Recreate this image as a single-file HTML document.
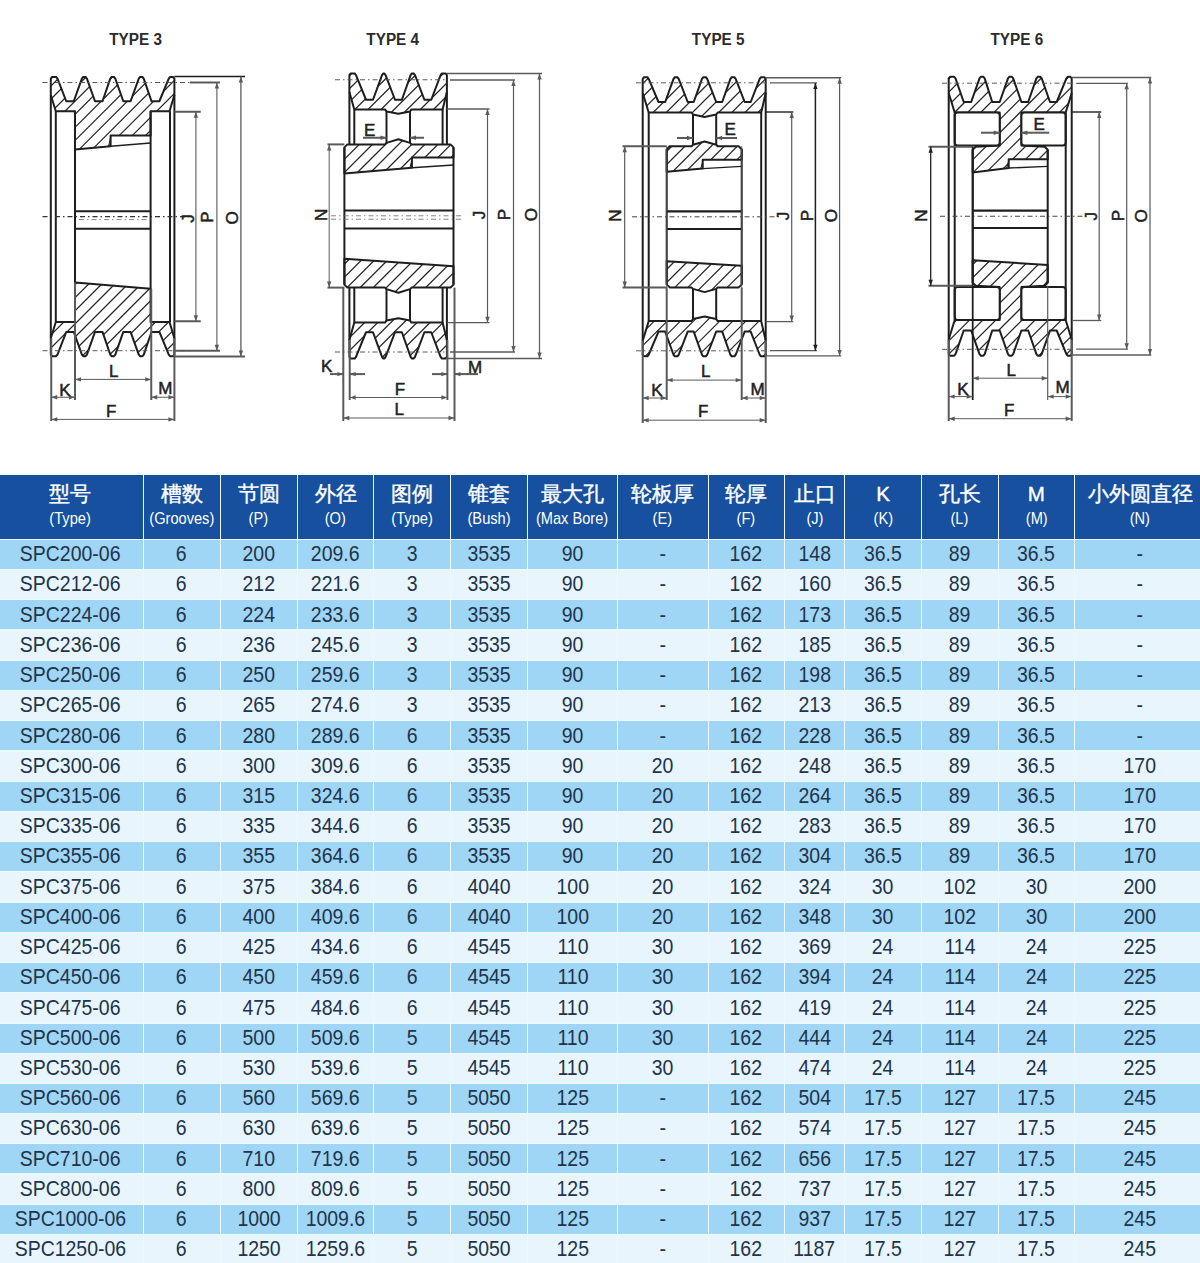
<!DOCTYPE html><html><head><meta charset="utf-8"><style>
html,body{margin:0;padding:0;background:#fff;width:1200px;height:1263px;overflow:hidden;position:relative;font-family:"Liberation Sans",sans-serif;}
.c{position:absolute;display:flex;align-items:center;justify-content:center;overflow:visible;white-space:nowrap;}
.t{display:inline-block;transform:scaleX(0.865);color:#22334a;font-size:22.5px;line-height:1;}
.h{position:absolute;background:#16509e;}
.hc{position:absolute;left:0;right:0;text-align:center;color:#fff;white-space:nowrap;line-height:1;}
.cn{font-size:20.5px;font-weight:normal;-webkit-text-stroke:0.4px #fff;top:8.5px;}
.en{font-size:17px;top:34.5px;}
.en span{display:inline-block;transform:scaleX(0.86);}
</style></head><body>
<svg width="1200" height="470" viewBox="0 0 1200 470" style="position:absolute;left:0;top:0" font-family="Liberation Sans, sans-serif"><clipPath id="cp1"><polygon points="50.8,78.6 52.1,77 56.2,77 57.5,78.6 66.25,101.25 73.75,101.25 81.9,78.6 83.2,77 85.6,77 86.9,78.6 95,101.25 102.5,101.25 110.3,78.6 111.6,77 114,77 115.3,78.6 123.3,101.25 130.6,101.25 138.75,78.6 140.05,77 142.45,77 143.75,78.6 151.5,101.25 159.4,101.25 168.75,78.6 170.05,77 173.1,77 174.4,78.6 174.4,95 169.5,111.25 150.6,111.25 150.6,135.6 110.6,135.6 110.6,146.2 75,149.4 75,111.25 55.8,111.25 50.8,95"/></clipPath><path clip-path="url(#cp1)" d="M-25.6 149.4L46.8 77M-12.5 149.4L59.9 77M0.6 149.4L73 77M13.7 149.4L86.1 77M26.8 149.4L99.2 77M39.9 149.4L112.3 77M53 149.4L125.4 77M66.1 149.4L138.5 77M79.2 149.4L151.6 77M92.3 149.4L164.7 77M105.4 149.4L177.8 77M118.5 149.4L190.9 77M131.6 149.4L204 77M144.7 149.4L217.1 77M157.8 149.4L230.2 77M170.9 149.4L243.3 77M184 149.4L256.4 77" stroke="#2a2a2a" stroke-width="1.25" fill="none"/><clipPath id="cp2"><polygon points="50.8,354.6 52.1,356.2 56.2,356.2 57.5,354.6 66.25,331.95 73.75,331.95 81.9,354.6 83.2,356.2 85.6,356.2 86.9,354.6 95,331.95 102.5,331.95 110.3,354.6 111.6,356.2 114,356.2 115.3,354.6 123.3,331.95 130.6,331.95 138.75,354.6 140.05,356.2 142.45,356.2 143.75,354.6 151.5,331.95 159.4,331.95 168.75,354.6 170.05,356.2 173.1,356.2 174.4,354.6 174.4,338.2 169.5,321.95 150.6,321.95 150.6,288.75 75,282.5 75,321.95 55.8,321.95 50.8,338.2"/></clipPath><path clip-path="url(#cp2)" d="M-35.9 356.2L37.8 282.5M-22.8 356.2L50.9 282.5M-9.7 356.2L64 282.5M3.4 356.2L77.1 282.5M16.5 356.2L90.2 282.5M29.6 356.2L103.3 282.5M42.7 356.2L116.4 282.5M55.8 356.2L129.5 282.5M68.9 356.2L142.6 282.5M82 356.2L155.7 282.5M95.1 356.2L168.8 282.5M108.2 356.2L181.9 282.5M121.3 356.2L195 282.5M134.4 356.2L208.1 282.5M147.5 356.2L221.2 282.5M160.6 356.2L234.3 282.5M173.7 356.2L247.4 282.5M186.8 356.2L260.5 282.5" stroke="#2a2a2a" stroke-width="1.25" fill="none"/><polygon points="50.8,78.6 52.1,77 56.2,77 57.5,78.6 66.25,101.25 73.75,101.25 81.9,78.6 83.2,77 85.6,77 86.9,78.6 95,101.25 102.5,101.25 110.3,78.6 111.6,77 114,77 115.3,78.6 123.3,101.25 130.6,101.25 138.75,78.6 140.05,77 142.45,77 143.75,78.6 151.5,101.25 159.4,101.25 168.75,78.6 170.05,77 173.1,77 174.4,78.6 174.4,95 169.5,111.25 150.6,111.25 150.6,135.6 110.6,135.6 110.6,146.2 75,149.4 75,111.25 55.8,111.25 50.8,95" fill="none" stroke="#1e1e1e" stroke-width="2" stroke-linejoin="round" /><polygon points="50.8,354.6 52.1,356.2 56.2,356.2 57.5,354.6 66.25,331.95 73.75,331.95 81.9,354.6 83.2,356.2 85.6,356.2 86.9,354.6 95,331.95 102.5,331.95 110.3,354.6 111.6,356.2 114,356.2 115.3,354.6 123.3,331.95 130.6,331.95 138.75,354.6 140.05,356.2 142.45,356.2 143.75,354.6 151.5,331.95 159.4,331.95 168.75,354.6 170.05,356.2 173.1,356.2 174.4,354.6 174.4,338.2 169.5,321.95 150.6,321.95 150.6,288.75 75,282.5 75,321.95 55.8,321.95 50.8,338.2" fill="none" stroke="#1e1e1e" stroke-width="2" stroke-linejoin="round" /><line x1="110.6" y1="146.2" x2="150.6" y2="143" stroke="#1e1e1e" stroke-width="1.4" /><line x1="108.4" y1="146.4" x2="110.8" y2="137" stroke="#1e1e1e" stroke-width="1" /><line x1="50.8" y1="95" x2="50.8" y2="338.2" stroke="#1e1e1e" stroke-width="2" /><line x1="174.4" y1="95" x2="174.4" y2="338.2" stroke="#1e1e1e" stroke-width="2" /><line x1="55.8" y1="111.25" x2="55.8" y2="321.95" stroke="#1e1e1e" stroke-width="2" /><line x1="170" y1="111.25" x2="170" y2="321.95" stroke="#1e1e1e" stroke-width="2" /><line x1="75" y1="149.4" x2="75" y2="282.5" stroke="#1e1e1e" stroke-width="2" /><line x1="150.6" y1="111.25" x2="150.6" y2="288.75" stroke="#1e1e1e" stroke-width="2" /><line x1="75" y1="211.25" x2="150.6" y2="211.25" stroke="#1e1e1e" stroke-width="2.2" /><line x1="75" y1="228.75" x2="150.6" y2="228.75" stroke="#1e1e1e" stroke-width="2.2" /><line x1="42.5" y1="216.6" x2="192" y2="216.6" stroke="#333" stroke-width="1.1" stroke-dasharray="5 3 1.5 3"/><line x1="79" y1="219.6" x2="150.6" y2="219.6" stroke="#666" stroke-width="0.8" stroke-dasharray="5 3 1.5 3"/><line x1="42.5" y1="82.5" x2="190" y2="82.5" stroke="#5a5a5a" stroke-width="1" stroke-dasharray="5 3 1.5 3"/><line x1="42.5" y1="350.7" x2="190" y2="350.7" stroke="#5a5a5a" stroke-width="1" stroke-dasharray="5 3 1.5 3"/><line x1="174.4" y1="76.5" x2="245" y2="76.5" stroke="#1e1e1e" stroke-width="1.6" /><line x1="174.4" y1="356.5" x2="245" y2="356.5" stroke="#5a5a5a" stroke-width="2" /><line x1="190" y1="82.5" x2="220" y2="82.5" stroke="#5a5a5a" stroke-width="2" /><line x1="174.4" y1="350.7" x2="220" y2="350.7" stroke="#5a5a5a" stroke-width="2" /><line x1="174.4" y1="111.75" x2="200.75" y2="111.75" stroke="#5a5a5a" stroke-width="2" /><line x1="174.4" y1="321.25" x2="200.75" y2="321.25" stroke="#5a5a5a" stroke-width="2" /><line x1="240.9" y1="76.5" x2="240.9" y2="356.5" stroke="#5a5a5a" stroke-width="1.3" /><polygon points="240.9,76.5 238.7,82.5 243.1,82.5" fill="#5a5a5a"/><polygon points="240.9,356.5 238.7,350.5 243.1,350.5" fill="#5a5a5a"/><line x1="216.9" y1="82.5" x2="216.9" y2="350.7" stroke="#5a5a5a" stroke-width="1.1" /><polygon points="216.9,82.5 214.7,88.5 219.1,88.5" fill="#5a5a5a"/><polygon points="216.9,350.7 214.7,344.7 219.1,344.7" fill="#5a5a5a"/><line x1="195.9" y1="111.75" x2="195.9" y2="321.25" stroke="#5a5a5a" stroke-width="1.1" /><polygon points="195.9,111.75 193.7,117.75 198.1,117.75" fill="#5a5a5a"/><polygon points="195.9,321.25 193.7,315.25 198.1,315.25" fill="#5a5a5a"/><g transform="translate(187.7 218.6) rotate(-90)"><text x="0" y="5.85" font-size="17" text-anchor="middle" font-weight="normal" fill="#222" stroke="#222" stroke-width="0.5" transform="scale(1 1)">J</text></g><g transform="translate(207.1 217) rotate(-90)"><text x="0" y="5.85" font-size="17" text-anchor="middle" font-weight="normal" fill="#222" stroke="#222" stroke-width="0.5" transform="scale(1 1)">P</text></g><g transform="translate(232.3 218) rotate(-90)"><text x="0" y="5.85" font-size="17" text-anchor="middle" font-weight="normal" fill="#222" stroke="#222" stroke-width="0.5" transform="scale(1 1)">O</text></g><line x1="51.25" y1="338.2" x2="51.25" y2="421" stroke="#5a5a5a" stroke-width="2" /><line x1="174.4" y1="338.2" x2="174.4" y2="421" stroke="#5a5a5a" stroke-width="2" /><line x1="75" y1="282.5" x2="75" y2="400" stroke="#5a5a5a" stroke-width="2" /><line x1="151.25" y1="288.75" x2="151.25" y2="400" stroke="#5a5a5a" stroke-width="2" /><line x1="75" y1="379.4" x2="151.25" y2="379.4" stroke="#5a5a5a" stroke-width="1" /><polygon points="75,379.4 81,377.2 81,381.6" fill="#5a5a5a"/><polygon points="151.25,379.4 145.25,377.2 145.25,381.6" fill="#5a5a5a"/><g transform="translate(113.7 371)"><text x="0" y="5.85" font-size="17" text-anchor="middle" font-weight="normal" fill="#222" stroke="#222" stroke-width="0.5" transform="scale(1 1)">L</text></g><line x1="51.25" y1="397.25" x2="75" y2="397.25" stroke="#5a5a5a" stroke-width="1" /><polygon points="51.25,397.25 57.25,395.05 57.25,399.45" fill="#5a5a5a"/><polygon points="75,397.25 69,395.05 69,399.45" fill="#5a5a5a"/><g transform="translate(65 389.7)"><text x="0" y="5.85" font-size="17" text-anchor="middle" font-weight="normal" fill="#222" stroke="#222" stroke-width="0.5" transform="scale(1 1)">K</text></g><line x1="151.25" y1="397.25" x2="174.4" y2="397.25" stroke="#5a5a5a" stroke-width="1" /><polygon points="151.25,397.25 157.25,395.05 157.25,399.45" fill="#5a5a5a"/><polygon points="174.4,397.25 168.4,395.05 168.4,399.45" fill="#5a5a5a"/><g transform="translate(165.3 388.5)"><text x="0" y="5.85" font-size="17" text-anchor="middle" font-weight="normal" fill="#222" stroke="#222" stroke-width="0.5" transform="scale(1 1)">M</text></g><line x1="51.25" y1="419.4" x2="174.4" y2="419.4" stroke="#5a5a5a" stroke-width="1" /><polygon points="51.25,419.4 57.25,417.2 57.25,421.6" fill="#5a5a5a"/><polygon points="174.4,419.4 168.4,417.2 168.4,421.6" fill="#5a5a5a"/><g transform="translate(111.2 411.2)"><text x="0" y="5.85" font-size="17" text-anchor="middle" font-weight="normal" fill="#222" stroke="#222" stroke-width="0.5" transform="scale(1 1)">F</text></g><g transform="translate(135.6 38.9)"><text x="0" y="5.85" font-size="17" text-anchor="middle" font-weight="bold" fill="#2b2b2b" stroke="#2b2b2b" stroke-width="0" transform="scale(0.9 1)">TYPE 3</text></g><clipPath id="cp3"><polygon points="349.4,75.1 350.7,73.5 354.7,73.5 356,75.1 366,99.75 373,99.75 382,75.1 383.3,73.5 384.3,73.5 385.6,75.1 395,99.75 401.9,99.75 410.6,75.1 411.9,73.5 413.7,73.5 415,75.1 424.4,99.75 431.25,99.75 440.6,75.1 441.9,73.5 445.6,73.5 446.9,75.1 446.9,92 442.6,109.4 411.5,109.4 410,111.4 398.4,113.8 386.5,111.4 385,109.4 354.3,109.4 349.4,92"/></clipPath><path clip-path="url(#cp3)" d="M298.2 113.8L338.5 73.5M311.3 113.8L351.6 73.5M324.4 113.8L364.7 73.5M337.5 113.8L377.8 73.5M350.6 113.8L390.9 73.5M363.7 113.8L404 73.5M376.8 113.8L417.1 73.5M389.9 113.8L430.2 73.5M403 113.8L443.3 73.5M416.1 113.8L456.4 73.5M429.2 113.8L469.5 73.5M442.3 113.8L482.6 73.5M455.4 113.8L495.7 73.5" stroke="#2a2a2a" stroke-width="1.25" fill="none"/><polygon points="349.4,75.1 350.7,73.5 354.7,73.5 356,75.1 366,99.75 373,99.75 382,75.1 383.3,73.5 384.3,73.5 385.6,75.1 395,99.75 401.9,99.75 410.6,75.1 411.9,73.5 413.7,73.5 415,75.1 424.4,99.75 431.25,99.75 440.6,75.1 441.9,73.5 445.6,73.5 446.9,75.1 446.9,92 442.6,109.4 411.5,109.4 410,111.4 398.4,113.8 386.5,111.4 385,109.4 354.3,109.4 349.4,92" fill="none" stroke="#1e1e1e" stroke-width="2" stroke-linejoin="round" /><clipPath id="cp4"><polygon points="349.4,356.9 350.7,358.5 354.7,358.5 356,356.9 366,332.25 373,332.25 382,356.9 383.3,358.5 384.3,358.5 385.6,356.9 395,332.25 401.9,332.25 410.6,356.9 411.9,358.5 413.7,358.5 415,356.9 424.4,332.25 431.25,332.25 440.6,356.9 441.9,358.5 445.6,358.5 446.9,356.9 446.9,340 442.6,322.6 411.5,322.6 410,320.6 398.4,318.2 386.5,320.6 385,322.6 354.3,322.6 349.4,340"/></clipPath><path clip-path="url(#cp4)" d="M302.4 358.5L342.7 318.2M315.5 358.5L355.8 318.2M328.6 358.5L368.9 318.2M341.7 358.5L382 318.2M354.8 358.5L395.1 318.2M367.9 358.5L408.2 318.2M381 358.5L421.3 318.2M394.1 358.5L434.4 318.2M407.2 358.5L447.5 318.2M420.3 358.5L460.6 318.2M433.4 358.5L473.7 318.2M446.5 358.5L486.8 318.2M459.6 358.5L499.9 318.2" stroke="#2a2a2a" stroke-width="1.25" fill="none"/><polygon points="349.4,356.9 350.7,358.5 354.7,358.5 356,356.9 366,332.25 373,332.25 382,356.9 383.3,358.5 384.3,358.5 385.6,356.9 395,332.25 401.9,332.25 410.6,356.9 411.9,358.5 413.7,358.5 415,356.9 424.4,332.25 431.25,332.25 440.6,356.9 441.9,358.5 445.6,358.5 446.9,356.9 446.9,340 442.6,322.6 411.5,322.6 410,320.6 398.4,318.2 386.5,320.6 385,322.6 354.3,322.6 349.4,340" fill="none" stroke="#1e1e1e" stroke-width="2" stroke-linejoin="round" /><clipPath id="cp5"><polygon points="347.4,144.4 385,144.4 386.5,142.9 398.4,139.2 410,142.9 411.5,144.4 450.5,144.4 453.5,147.4 453.5,157.5 411.9,157.5 411.9,167.8 344.4,173.5 344.4,147.4"/></clipPath><path clip-path="url(#cp5)" d="M304 173.5L338.3 139.2M317.1 173.5L351.4 139.2M330.2 173.5L364.5 139.2M343.3 173.5L377.6 139.2M356.4 173.5L390.7 139.2M369.5 173.5L403.8 139.2M382.6 173.5L416.9 139.2M395.7 173.5L430 139.2M408.8 173.5L443.1 139.2M421.9 173.5L456.2 139.2M435 173.5L469.3 139.2M448.1 173.5L482.4 139.2M461.2 173.5L495.5 139.2" stroke="#2a2a2a" stroke-width="1.25" fill="none"/><polygon points="347.4,144.4 385,144.4 386.5,142.9 398.4,139.2 410,142.9 411.5,144.4 450.5,144.4 453.5,147.4 453.5,157.5 411.9,157.5 411.9,167.8 344.4,173.5 344.4,147.4" fill="none" stroke="#1e1e1e" stroke-width="2" stroke-linejoin="round" /><clipPath id="cp6"><polygon points="347.4,287.6 385,287.6 386.5,289.1 398.4,292.8 410,289.1 411.5,287.6 450.5,287.6 453.5,284.6 453.5,266.25 344.4,258.75 344.4,284.6"/></clipPath><path clip-path="url(#cp6)" d="M302.6 292.8L336.65 258.75M315.7 292.8L349.75 258.75M328.8 292.8L362.85 258.75M341.9 292.8L375.95 258.75M355 292.8L389.05 258.75M368.1 292.8L402.15 258.75M381.2 292.8L415.25 258.75M394.3 292.8L428.35 258.75M407.4 292.8L441.45 258.75M420.5 292.8L454.55 258.75M433.6 292.8L467.65 258.75M446.7 292.8L480.75 258.75M459.8 292.8L493.85 258.75" stroke="#2a2a2a" stroke-width="1.25" fill="none"/><polygon points="347.4,287.6 385,287.6 386.5,289.1 398.4,292.8 410,289.1 411.5,287.6 450.5,287.6 453.5,284.6 453.5,266.25 344.4,258.75 344.4,284.6" fill="none" stroke="#1e1e1e" stroke-width="2" stroke-linejoin="round" /><line x1="411.9" y1="167.8" x2="453.5" y2="165" stroke="#1e1e1e" stroke-width="1.4" /><line x1="409.8" y1="168.2" x2="412.2" y2="159" stroke="#1e1e1e" stroke-width="1" /><line x1="349.4" y1="92" x2="349.4" y2="144.4" stroke="#1e1e1e" stroke-width="2" /><line x1="446.9" y1="92" x2="446.9" y2="144.4" stroke="#1e1e1e" stroke-width="2" /><line x1="349.4" y1="287.6" x2="349.4" y2="340" stroke="#1e1e1e" stroke-width="2" /><line x1="446.9" y1="287.6" x2="446.9" y2="340" stroke="#1e1e1e" stroke-width="2" /><line x1="354.3" y1="109.4" x2="354.3" y2="144.4" stroke="#1e1e1e" stroke-width="2" /><line x1="442.6" y1="109.4" x2="442.6" y2="144.4" stroke="#1e1e1e" stroke-width="2" /><line x1="354.3" y1="287.6" x2="354.3" y2="322.6" stroke="#1e1e1e" stroke-width="2" /><line x1="442.6" y1="287.6" x2="442.6" y2="322.6" stroke="#1e1e1e" stroke-width="2" /><line x1="386.5" y1="111.4" x2="386.5" y2="142.9" stroke="#1e1e1e" stroke-width="2" /><line x1="410" y1="111.4" x2="410" y2="142.9" stroke="#1e1e1e" stroke-width="2" /><line x1="386.5" y1="289.1" x2="386.5" y2="320.6" stroke="#1e1e1e" stroke-width="2" /><line x1="410" y1="289.1" x2="410" y2="320.6" stroke="#1e1e1e" stroke-width="2" /><line x1="344.4" y1="147.4" x2="344.4" y2="284.6" stroke="#1e1e1e" stroke-width="2" /><line x1="453.5" y1="147.4" x2="453.5" y2="284.6" stroke="#1e1e1e" stroke-width="2" /><line x1="344.4" y1="210.5" x2="453.5" y2="210.5" stroke="#1e1e1e" stroke-width="2.2" /><line x1="344.4" y1="228.5" x2="453.5" y2="228.5" stroke="#1e1e1e" stroke-width="2.2" /><line x1="331" y1="215.8" x2="462" y2="215.8" stroke="#777" stroke-width="0.9" stroke-dasharray="5 3 1.5 3"/><line x1="331" y1="219.2" x2="462" y2="219.2" stroke="#777" stroke-width="0.9" stroke-dasharray="5 3 1.5 3"/><line x1="335" y1="79.75" x2="447" y2="79.75" stroke="#5a5a5a" stroke-width="1" stroke-dasharray="5 3 1.5 3"/><line x1="335" y1="352" x2="447" y2="352" stroke="#5a5a5a" stroke-width="1" stroke-dasharray="5 3 1.5 3"/><line x1="446.9" y1="73.5" x2="542" y2="73.5" stroke="#5a5a5a" stroke-width="1.4" /><line x1="446.9" y1="358.5" x2="542" y2="358.5" stroke="#5a5a5a" stroke-width="1.4" /><line x1="450" y1="80" x2="515" y2="80" stroke="#5a5a5a" stroke-width="1.3" /><line x1="450" y1="352" x2="515" y2="352" stroke="#5a5a5a" stroke-width="1.3" /><line x1="446.9" y1="109" x2="489.5" y2="109" stroke="#5a5a5a" stroke-width="1.3" /><line x1="446.9" y1="322.7" x2="489.5" y2="322.7" stroke="#5a5a5a" stroke-width="1.3" /><line x1="539.5" y1="73.5" x2="539.5" y2="358.5" stroke="#5a5a5a" stroke-width="1.2" /><polygon points="539.5,73.5 537.3,79.5 541.7,79.5" fill="#5a5a5a"/><polygon points="539.5,358.5 537.3,352.5 541.7,352.5" fill="#5a5a5a"/><line x1="513.5" y1="80" x2="513.5" y2="352" stroke="#5a5a5a" stroke-width="1.2" /><polygon points="513.5,80 511.3,86 515.7,86" fill="#5a5a5a"/><polygon points="513.5,352 511.3,346 515.7,346" fill="#5a5a5a"/><line x1="487.5" y1="109" x2="487.5" y2="322.7" stroke="#5a5a5a" stroke-width="1.2" /><polygon points="487.5,109 485.3,115 489.7,115" fill="#5a5a5a"/><polygon points="487.5,322.7 485.3,316.7 489.7,316.7" fill="#5a5a5a"/><g transform="translate(478.7 215) rotate(-90)"><text x="0" y="5.85" font-size="17" text-anchor="middle" font-weight="normal" fill="#222" stroke="#222" stroke-width="0.5" transform="scale(1 1)">J</text></g><g transform="translate(504.5 214.7) rotate(-90)"><text x="0" y="5.85" font-size="17" text-anchor="middle" font-weight="normal" fill="#222" stroke="#222" stroke-width="0.5" transform="scale(1 1)">P</text></g><g transform="translate(530.7 214.7) rotate(-90)"><text x="0" y="5.85" font-size="17" text-anchor="middle" font-weight="normal" fill="#222" stroke="#222" stroke-width="0.5" transform="scale(1 1)">O</text></g><line x1="327.5" y1="144.4" x2="344.4" y2="144.4" stroke="#5a5a5a" stroke-width="2" /><line x1="327.5" y1="287.6" x2="344.4" y2="287.6" stroke="#5a5a5a" stroke-width="2" /><line x1="329.2" y1="144.4" x2="329.2" y2="287.6" stroke="#5a5a5a" stroke-width="1" /><polygon points="329.2,144.4 327,150.4 331.4,150.4" fill="#5a5a5a"/><polygon points="329.2,287.6 327,281.6 331.4,281.6" fill="#5a5a5a"/><g transform="translate(321.5 214.9) rotate(-90)"><text x="0" y="5.85" font-size="17" text-anchor="middle" font-weight="normal" fill="#222" stroke="#222" stroke-width="0.5" transform="scale(1 1)">N</text></g><g transform="translate(369.7 129.7)"><text x="0" y="5.85" font-size="17" text-anchor="middle" font-weight="normal" fill="#222" stroke="#222" stroke-width="0.5" transform="scale(1 1)">E</text></g><line x1="363" y1="137.75" x2="386.5" y2="137.75" stroke="#5a5a5a" stroke-width="2" /><polygon points="386.5,137.75 380.5,135.55 380.5,139.95" fill="#5a5a5a"/><line x1="410" y1="137.75" x2="424" y2="137.75" stroke="#5a5a5a" stroke-width="2" /><polygon points="410,137.75 416,135.55 416,139.95" fill="#5a5a5a"/><line x1="343.3" y1="287.6" x2="343.3" y2="421" stroke="#5a5a5a" stroke-width="2" /><line x1="454.5" y1="287.6" x2="454.5" y2="421" stroke="#5a5a5a" stroke-width="2" /><line x1="349.7" y1="340" x2="349.7" y2="400" stroke="#5a5a5a" stroke-width="2" /><line x1="447.4" y1="340" x2="447.4" y2="400" stroke="#5a5a5a" stroke-width="2" /><line x1="330" y1="374.1" x2="343.3" y2="374.1" stroke="#5a5a5a" stroke-width="2" /><polygon points="343.3,374.1 337.3,371.9 337.3,376.3" fill="#5a5a5a"/><line x1="349.7" y1="374.1" x2="365" y2="374.1" stroke="#5a5a5a" stroke-width="2" /><polygon points="349.7,374.1 355.7,371.9 355.7,376.3" fill="#5a5a5a"/><line x1="432" y1="374.1" x2="447.4" y2="374.1" stroke="#5a5a5a" stroke-width="2" /><polygon points="447.4,374.1 441.4,371.9 441.4,376.3" fill="#5a5a5a"/><line x1="454.5" y1="374.1" x2="478" y2="374.1" stroke="#5a5a5a" stroke-width="2" /><polygon points="454.5,374.1 460.5,371.9 460.5,376.3" fill="#5a5a5a"/><g transform="translate(326.6 366)"><text x="0" y="5.85" font-size="17" text-anchor="middle" font-weight="normal" fill="#222" stroke="#222" stroke-width="0.5" transform="scale(1 1)">K</text></g><g transform="translate(475 367.2)"><text x="0" y="5.85" font-size="17" text-anchor="middle" font-weight="normal" fill="#222" stroke="#222" stroke-width="0.5" transform="scale(1 1)">M</text></g><line x1="349.7" y1="397.5" x2="447.4" y2="397.5" stroke="#5a5a5a" stroke-width="1" /><polygon points="349.7,397.5 355.7,395.3 355.7,399.7" fill="#5a5a5a"/><polygon points="447.4,397.5 441.4,395.3 441.4,399.7" fill="#5a5a5a"/><g transform="translate(400 389.3)"><text x="0" y="5.85" font-size="17" text-anchor="middle" font-weight="normal" fill="#222" stroke="#222" stroke-width="0.5" transform="scale(1 1)">F</text></g><line x1="343.3" y1="418" x2="454.5" y2="418" stroke="#5a5a5a" stroke-width="1" /><polygon points="343.3,418 349.3,415.8 349.3,420.2" fill="#5a5a5a"/><polygon points="454.5,418 448.5,415.8 448.5,420.2" fill="#5a5a5a"/><g transform="translate(399.2 409.1)"><text x="0" y="5.85" font-size="17" text-anchor="middle" font-weight="normal" fill="#222" stroke="#222" stroke-width="0.5" transform="scale(1 1)">L</text></g><g transform="translate(392.7 38.9)"><text x="0" y="5.85" font-size="17" text-anchor="middle" font-weight="bold" fill="#2b2b2b" stroke="#2b2b2b" stroke-width="0" transform="scale(0.9 1)">TYPE 4</text></g><clipPath id="cp7"><polygon points="642.7,78.85 644,77.25 647.4,77.25 648.7,78.85 658.5,102 665.2,102 673.5,78.85 674.8,77.25 677.4,77.25 678.7,78.85 687.7,102 693.7,102 702,78.85 703.3,77.25 705.9,77.25 707.2,78.85 716.2,102 722.2,102 730.4,78.85 731.7,77.25 734.4,77.25 735.7,78.85 744.7,102 750.7,102 759.7,78.85 761,77.25 764.4,77.25 765.7,78.85 765.7,93 761.2,112.5 717.7,112.5 716.2,114.5 704.6,117 693,114.5 691.5,112.5 648.7,112.5 642.7,93"/></clipPath><path clip-path="url(#cp7)" d="M596.3 117L636.05 77.25M609.4 117L649.15 77.25M622.5 117L662.25 77.25M635.6 117L675.35 77.25M648.7 117L688.45 77.25M661.8 117L701.55 77.25M674.9 117L714.65 77.25M688 117L727.75 77.25M701.1 117L740.85 77.25M714.2 117L753.95 77.25M727.3 117L767.05 77.25M740.4 117L780.15 77.25M753.5 117L793.25 77.25M766.6 117L806.35 77.25" stroke="#2a2a2a" stroke-width="1.25" fill="none"/><polygon points="642.7,78.85 644,77.25 647.4,77.25 648.7,78.85 658.5,102 665.2,102 673.5,78.85 674.8,77.25 677.4,77.25 678.7,78.85 687.7,102 693.7,102 702,78.85 703.3,77.25 705.9,77.25 707.2,78.85 716.2,102 722.2,102 730.4,78.85 731.7,77.25 734.4,77.25 735.7,78.85 744.7,102 750.7,102 759.7,78.85 761,77.25 764.4,77.25 765.7,78.85 765.7,93 761.2,112.5 717.7,112.5 716.2,114.5 704.6,117 693,114.5 691.5,112.5 648.7,112.5 642.7,93" fill="none" stroke="#1e1e1e" stroke-width="2" stroke-linejoin="round" /><clipPath id="cp8"><polygon points="642.7,354.75 644,356.35 647.4,356.35 648.7,354.75 658.5,331.6 665.2,331.6 673.5,354.75 674.8,356.35 677.4,356.35 678.7,354.75 687.7,331.6 693.7,331.6 702,354.75 703.3,356.35 705.9,356.35 707.2,354.75 716.2,331.6 722.2,331.6 730.4,354.75 731.7,356.35 734.4,356.35 735.7,354.75 744.7,331.6 750.7,331.6 759.7,354.75 761,356.35 764.4,356.35 765.7,354.75 765.7,340.6 761.2,321.1 717.7,321.1 716.2,319.1 704.6,316.6 693,319.1 691.5,321.1 648.7,321.1 642.7,340.6"/></clipPath><path clip-path="url(#cp8)" d="M592.75 356.35L632.5 316.6M605.85 356.35L645.6 316.6M618.95 356.35L658.7 316.6M632.05 356.35L671.8 316.6M645.15 356.35L684.9 316.6M658.25 356.35L698 316.6M671.35 356.35L711.1 316.6M684.45 356.35L724.2 316.6M697.55 356.35L737.3 316.6M710.65 356.35L750.4 316.6M723.75 356.35L763.5 316.6M736.85 356.35L776.6 316.6M749.95 356.35L789.7 316.6M763.05 356.35L802.8 316.6M776.15 356.35L815.9 316.6" stroke="#2a2a2a" stroke-width="1.25" fill="none"/><polygon points="642.7,354.75 644,356.35 647.4,356.35 648.7,354.75 658.5,331.6 665.2,331.6 673.5,354.75 674.8,356.35 677.4,356.35 678.7,354.75 687.7,331.6 693.7,331.6 702,354.75 703.3,356.35 705.9,356.35 707.2,354.75 716.2,331.6 722.2,331.6 730.4,354.75 731.7,356.35 734.4,356.35 735.7,354.75 744.7,331.6 750.7,331.6 759.7,354.75 761,356.35 764.4,356.35 765.7,354.75 765.7,340.6 761.2,321.1 717.7,321.1 716.2,319.1 704.6,316.6 693,319.1 691.5,321.1 648.7,321.1 642.7,340.6" fill="none" stroke="#1e1e1e" stroke-width="2" stroke-linejoin="round" /><clipPath id="cp9"><polygon points="669.7,146.2 691.5,146.2 693,144.7 704.6,141.5 716.2,144.7 717.7,146.2 738.7,146.2 741.7,149.2 741.7,159.7 702.7,159.7 702.7,168.6 666.7,171.7 666.7,149.2"/></clipPath><path clip-path="url(#cp9)" d="M633.3 171.7L663.5 141.5M646.4 171.7L676.6 141.5M659.5 171.7L689.7 141.5M672.6 171.7L702.8 141.5M685.7 171.7L715.9 141.5M698.8 171.7L729 141.5M711.9 171.7L742.1 141.5M725 171.7L755.2 141.5M738.1 171.7L768.3 141.5M751.2 171.7L781.4 141.5" stroke="#2a2a2a" stroke-width="1.25" fill="none"/><polygon points="669.7,146.2 691.5,146.2 693,144.7 704.6,141.5 716.2,144.7 717.7,146.2 738.7,146.2 741.7,149.2 741.7,159.7 702.7,159.7 702.7,168.6 666.7,171.7 666.7,149.2" fill="none" stroke="#1e1e1e" stroke-width="2" stroke-linejoin="round" /><clipPath id="cp10"><polygon points="669.7,287.4 691.5,287.4 693,288.9 704.6,292.1 716.2,288.9 717.7,287.4 738.7,287.4 741.7,284.4 741.7,265.7 666.7,261.2 666.7,284.4"/></clipPath><path clip-path="url(#cp10)" d="M630.8 292.1L661.7 261.2M643.9 292.1L674.8 261.2M657 292.1L687.9 261.2M670.1 292.1L701 261.2M683.2 292.1L714.1 261.2M696.3 292.1L727.2 261.2M709.4 292.1L740.3 261.2M722.5 292.1L753.4 261.2M735.6 292.1L766.5 261.2M748.7 292.1L779.6 261.2" stroke="#2a2a2a" stroke-width="1.25" fill="none"/><polygon points="669.7,287.4 691.5,287.4 693,288.9 704.6,292.1 716.2,288.9 717.7,287.4 738.7,287.4 741.7,284.4 741.7,265.7 666.7,261.2 666.7,284.4" fill="none" stroke="#1e1e1e" stroke-width="2" stroke-linejoin="round" /><line x1="702.7" y1="168.6" x2="741.7" y2="166.4" stroke="#1e1e1e" stroke-width="1.4" /><line x1="700.6" y1="169" x2="703" y2="160.5" stroke="#1e1e1e" stroke-width="1" /><line x1="642.7" y1="93" x2="642.7" y2="340.6" stroke="#1e1e1e" stroke-width="2" /><line x1="765.7" y1="93" x2="765.7" y2="340.6" stroke="#1e1e1e" stroke-width="2" /><line x1="648.7" y1="112.5" x2="648.7" y2="321.1" stroke="#1e1e1e" stroke-width="2" /><line x1="761.2" y1="112.5" x2="761.2" y2="321.1" stroke="#1e1e1e" stroke-width="2" /><line x1="693" y1="114.5" x2="693" y2="144.7" stroke="#1e1e1e" stroke-width="2" /><line x1="716.2" y1="114.5" x2="716.2" y2="144.7" stroke="#1e1e1e" stroke-width="2" /><line x1="693" y1="288.9" x2="693" y2="319.1" stroke="#1e1e1e" stroke-width="2" /><line x1="716.2" y1="288.9" x2="716.2" y2="319.1" stroke="#1e1e1e" stroke-width="2" /><line x1="666.7" y1="149.2" x2="666.7" y2="284.4" stroke="#1e1e1e" stroke-width="2" /><line x1="741.7" y1="149.2" x2="741.7" y2="284.4" stroke="#1e1e1e" stroke-width="2" /><line x1="666.7" y1="211.3" x2="741.7" y2="211.3" stroke="#1e1e1e" stroke-width="2.2" /><line x1="666.7" y1="229" x2="741.7" y2="229" stroke="#1e1e1e" stroke-width="2.2" /><line x1="632" y1="216.8" x2="780" y2="216.8" stroke="#444" stroke-width="1" stroke-dasharray="5 3 1.5 3"/><line x1="636" y1="82.8" x2="766" y2="82.8" stroke="#5a5a5a" stroke-width="1" stroke-dasharray="5 3 1.5 3"/><line x1="636" y1="350.8" x2="766" y2="350.8" stroke="#5a5a5a" stroke-width="1" stroke-dasharray="5 3 1.5 3"/><line x1="765.7" y1="77.7" x2="841.25" y2="77.7" stroke="#5a5a5a" stroke-width="1.4" /><line x1="765.7" y1="355.9" x2="841.25" y2="355.9" stroke="#5a5a5a" stroke-width="1.4" /><line x1="770" y1="82.9" x2="817" y2="82.9" stroke="#5a5a5a" stroke-width="1.3" /><line x1="770" y1="350.7" x2="817" y2="350.7" stroke="#5a5a5a" stroke-width="1.3" /><line x1="765.7" y1="112" x2="793.3" y2="112" stroke="#1e1e1e" stroke-width="1.4" /><line x1="765.7" y1="321.6" x2="793.3" y2="321.6" stroke="#5a5a5a" stroke-width="1.3" /><line x1="839.6" y1="77.7" x2="839.6" y2="355.9" stroke="#5a5a5a" stroke-width="1.2" /><polygon points="839.6,77.7 837.4,83.7 841.8,83.7" fill="#5a5a5a"/><polygon points="839.6,355.9 837.4,349.9 841.8,349.9" fill="#5a5a5a"/><line x1="815.4" y1="82.9" x2="815.4" y2="350.7" stroke="#1e1e1e" stroke-width="1.5" /><polygon points="815.4,82.9 813.2,88.9 817.6,88.9" fill="#1e1e1e"/><polygon points="815.4,350.7 813.2,344.7 817.6,344.7" fill="#1e1e1e"/><line x1="791.7" y1="112" x2="791.7" y2="321.6" stroke="#5a5a5a" stroke-width="1.2" /><polygon points="791.7,112 789.5,118 793.9,118" fill="#5a5a5a"/><polygon points="791.7,321.6 789.5,315.6 793.9,315.6" fill="#5a5a5a"/><g transform="translate(783.3 216) rotate(-90)"><text x="0" y="5.85" font-size="17" text-anchor="middle" font-weight="normal" fill="#222" stroke="#222" stroke-width="0.5" transform="scale(1 1)">J</text></g><g transform="translate(806.7 215.5) rotate(-90)"><text x="0" y="5.85" font-size="17" text-anchor="middle" font-weight="normal" fill="#222" stroke="#222" stroke-width="0.5" transform="scale(1 1)">P</text></g><g transform="translate(830.7 215.7) rotate(-90)"><text x="0" y="5.85" font-size="17" text-anchor="middle" font-weight="normal" fill="#222" stroke="#222" stroke-width="0.5" transform="scale(1 1)">O</text></g><line x1="622.5" y1="146.2" x2="666.7" y2="146.2" stroke="#5a5a5a" stroke-width="2" /><line x1="622.5" y1="287.4" x2="666.7" y2="287.4" stroke="#5a5a5a" stroke-width="2" /><line x1="624.7" y1="146.2" x2="624.7" y2="287.4" stroke="#5a5a5a" stroke-width="1.2" /><polygon points="624.7,146.2 622.5,152.2 626.9,152.2" fill="#5a5a5a"/><polygon points="624.7,287.4 622.5,281.4 626.9,281.4" fill="#5a5a5a"/><g transform="translate(615.3 215.5) rotate(-90)"><text x="0" y="5.85" font-size="17" text-anchor="middle" font-weight="normal" fill="#222" stroke="#222" stroke-width="0.5" transform="scale(1 1)">N</text></g><g transform="translate(730.1 129.35)"><text x="0" y="5.85" font-size="17" text-anchor="middle" font-weight="normal" fill="#222" stroke="#222" stroke-width="0.5" transform="scale(1 1)">E</text></g><line x1="677" y1="138" x2="693" y2="138" stroke="#5a5a5a" stroke-width="2" /><polygon points="693,138 687,135.8 687,140.2" fill="#5a5a5a"/><line x1="716.2" y1="138" x2="737" y2="138" stroke="#5a5a5a" stroke-width="2" /><polygon points="716.2,138 722.2,135.8 722.2,140.2" fill="#5a5a5a"/><line x1="642.7" y1="340.6" x2="642.7" y2="423" stroke="#5a5a5a" stroke-width="2" /><line x1="765.7" y1="340.6" x2="765.7" y2="423" stroke="#5a5a5a" stroke-width="2" /><line x1="666.7" y1="287.4" x2="666.7" y2="400" stroke="#5a5a5a" stroke-width="2" /><line x1="741.7" y1="287.4" x2="741.7" y2="400" stroke="#5a5a5a" stroke-width="2" /><line x1="666.7" y1="146.2" x2="666.7" y2="287.4" stroke="#5a5a5a" stroke-width="0.8" /><line x1="741.7" y1="146.2" x2="741.7" y2="287.4" stroke="#5a5a5a" stroke-width="0.8" /><line x1="666.7" y1="380.1" x2="741.7" y2="380.1" stroke="#5a5a5a" stroke-width="1" /><polygon points="666.7,380.1 672.7,377.9 672.7,382.3" fill="#5a5a5a"/><polygon points="741.7,380.1 735.7,377.9 735.7,382.3" fill="#5a5a5a"/><g transform="translate(705.7 371.4)"><text x="0" y="5.85" font-size="17" text-anchor="middle" font-weight="normal" fill="#222" stroke="#222" stroke-width="0.5" transform="scale(1 1)">L</text></g><line x1="642.7" y1="398" x2="666.7" y2="398" stroke="#5a5a5a" stroke-width="1" /><polygon points="642.7,398 648.7,395.8 648.7,400.2" fill="#5a5a5a"/><polygon points="666.7,398 660.7,395.8 660.7,400.2" fill="#5a5a5a"/><g transform="translate(657 390)"><text x="0" y="5.85" font-size="17" text-anchor="middle" font-weight="normal" fill="#222" stroke="#222" stroke-width="0.5" transform="scale(1 1)">K</text></g><line x1="741.7" y1="398" x2="765.7" y2="398" stroke="#5a5a5a" stroke-width="1" /><polygon points="741.7,398 747.7,395.8 747.7,400.2" fill="#5a5a5a"/><polygon points="765.7,398 759.7,395.8 759.7,400.2" fill="#5a5a5a"/><g transform="translate(757.5 389)"><text x="0" y="5.85" font-size="17" text-anchor="middle" font-weight="normal" fill="#222" stroke="#222" stroke-width="0.5" transform="scale(1 1)">M</text></g><line x1="642.7" y1="420.2" x2="765.7" y2="420.2" stroke="#5a5a5a" stroke-width="1" /><polygon points="642.7,420.2 648.7,418 648.7,422.4" fill="#5a5a5a"/><polygon points="765.7,420.2 759.7,418 759.7,422.4" fill="#5a5a5a"/><g transform="translate(703.1 411.6)"><text x="0" y="5.85" font-size="17" text-anchor="middle" font-weight="normal" fill="#222" stroke="#222" stroke-width="0.5" transform="scale(1 1)">F</text></g><g transform="translate(718.2 38.9)"><text x="0" y="5.85" font-size="17" text-anchor="middle" font-weight="bold" fill="#2b2b2b" stroke="#2b2b2b" stroke-width="0" transform="scale(0.9 1)">TYPE 5</text></g><clipPath id="cp11"><polygon points="948.7,78.4 950,76.8 954.2,76.8 955.5,78.4 963.7,102 971.2,102 979.5,78.4 980.8,76.8 983.4,76.8 984.7,78.4 992.2,102 999.7,102 1008,78.4 1009.3,76.8 1011.9,76.8 1013.2,78.4 1021.4,102 1028.2,102 1036.4,78.4 1037.7,76.8 1040.4,76.8 1041.7,78.4 1050,102 1056.7,102 1066.4,78.4 1067.7,76.8 1070.4,76.8 1071.7,78.4 1071.7,93 1065.7,112.5 1021.4,112.5 1021.4,145.5 1044.7,146.7 1047.7,149.7 1047.7,159.25 1008.7,159.25 1008.7,168 972.7,172.4 972.7,149.7 975.7,146.7 999.7,145.5 999.7,112.5 954.7,112.5 948.7,93"/></clipPath><path clip-path="url(#cp11)" d="M842.2 172.4L937.8 76.8M855.3 172.4L950.9 76.8M868.4 172.4L964 76.8M881.5 172.4L977.1 76.8M894.6 172.4L990.2 76.8M907.7 172.4L1003.3 76.8M920.8 172.4L1016.4 76.8M933.9 172.4L1029.5 76.8M947 172.4L1042.6 76.8M960.1 172.4L1055.7 76.8M973.2 172.4L1068.8 76.8M986.3 172.4L1081.9 76.8M999.4 172.4L1095 76.8M1012.5 172.4L1108.1 76.8M1025.6 172.4L1121.2 76.8M1038.7 172.4L1134.3 76.8M1051.8 172.4L1147.4 76.8M1064.9 172.4L1160.5 76.8M1078 172.4L1173.6 76.8" stroke="#2a2a2a" stroke-width="1.25" fill="none"/><polygon points="948.7,78.4 950,76.8 954.2,76.8 955.5,78.4 963.7,102 971.2,102 979.5,78.4 980.8,76.8 983.4,76.8 984.7,78.4 992.2,102 999.7,102 1008,78.4 1009.3,76.8 1011.9,76.8 1013.2,78.4 1021.4,102 1028.2,102 1036.4,78.4 1037.7,76.8 1040.4,76.8 1041.7,78.4 1050,102 1056.7,102 1066.4,78.4 1067.7,76.8 1070.4,76.8 1071.7,78.4 1071.7,93 1065.7,112.5 1021.4,112.5 1021.4,145.5 1044.7,146.7 1047.7,149.7 1047.7,159.25 1008.7,159.25 1008.7,168 972.7,172.4 972.7,149.7 975.7,146.7 999.7,145.5 999.7,112.5 954.7,112.5 948.7,93" fill="none" stroke="#1e1e1e" stroke-width="2" stroke-linejoin="round" /><clipPath id="cp12"><polygon points="948.7,354.1 950,355.7 954.2,355.7 955.5,354.1 963.7,330.5 971.2,330.5 979.5,354.1 980.8,355.7 983.4,355.7 984.7,354.1 992.2,330.5 999.7,330.5 1008,354.1 1009.3,355.7 1011.9,355.7 1013.2,354.1 1021.4,330.5 1028.2,330.5 1036.4,354.1 1037.7,355.7 1040.4,355.7 1041.7,354.1 1050,330.5 1056.7,330.5 1066.4,354.1 1067.7,355.7 1070.4,355.7 1071.7,354.1 1071.7,339.5 1065.7,320 1021.4,320 1021.4,287 1044.7,285.8 1047.7,282.8 1047.7,265 972.7,260.2 972.7,282.8 975.7,285.8 999.7,287 999.7,320 954.7,320 948.7,339.5"/></clipPath><path clip-path="url(#cp12)" d="M842.3 355.7L937.8 260.2M855.4 355.7L950.9 260.2M868.5 355.7L964 260.2M881.6 355.7L977.1 260.2M894.7 355.7L990.2 260.2M907.8 355.7L1003.3 260.2M920.9 355.7L1016.4 260.2M934 355.7L1029.5 260.2M947.1 355.7L1042.6 260.2M960.2 355.7L1055.7 260.2M973.3 355.7L1068.8 260.2M986.4 355.7L1081.9 260.2M999.5 355.7L1095 260.2M1012.6 355.7L1108.1 260.2M1025.7 355.7L1121.2 260.2M1038.8 355.7L1134.3 260.2M1051.9 355.7L1147.4 260.2M1065 355.7L1160.5 260.2M1078.1 355.7L1173.6 260.2" stroke="#2a2a2a" stroke-width="1.25" fill="none"/><polygon points="948.7,354.1 950,355.7 954.2,355.7 955.5,354.1 963.7,330.5 971.2,330.5 979.5,354.1 980.8,355.7 983.4,355.7 984.7,354.1 992.2,330.5 999.7,330.5 1008,354.1 1009.3,355.7 1011.9,355.7 1013.2,354.1 1021.4,330.5 1028.2,330.5 1036.4,354.1 1037.7,355.7 1040.4,355.7 1041.7,354.1 1050,330.5 1056.7,330.5 1066.4,354.1 1067.7,355.7 1070.4,355.7 1071.7,354.1 1071.7,339.5 1065.7,320 1021.4,320 1021.4,287 1044.7,285.8 1047.7,282.8 1047.7,265 972.7,260.2 972.7,282.8 975.7,285.8 999.7,287 999.7,320 954.7,320 948.7,339.5" fill="none" stroke="#1e1e1e" stroke-width="2" stroke-linejoin="round" /><rect x="954.7" y="112.5" width="45" height="33" rx="3" fill="#fff" stroke="#1e1e1e" stroke-width="2"/><rect x="1021.4" y="112.5" width="44.3" height="33" rx="3" fill="#fff" stroke="#1e1e1e" stroke-width="2"/><rect x="954.7" y="287" width="45" height="33" rx="3" fill="#fff" stroke="#1e1e1e" stroke-width="2"/><rect x="1021.4" y="287" width="44.3" height="33" rx="3" fill="#fff" stroke="#1e1e1e" stroke-width="2"/><line x1="1008.7" y1="168" x2="1047.7" y2="166.4" stroke="#1e1e1e" stroke-width="1.4" /><line x1="1006.6" y1="168.4" x2="1009" y2="160" stroke="#1e1e1e" stroke-width="1" /><line x1="948.7" y1="93" x2="948.7" y2="339.5" stroke="#1e1e1e" stroke-width="2" /><line x1="1071.7" y1="93" x2="1071.7" y2="339.5" stroke="#1e1e1e" stroke-width="2" /><line x1="954.7" y1="112.5" x2="954.7" y2="320" stroke="#1e1e1e" stroke-width="2" /><line x1="1065.7" y1="112.5" x2="1065.7" y2="320" stroke="#1e1e1e" stroke-width="2" /><line x1="972.7" y1="149.7" x2="972.7" y2="282.8" stroke="#1e1e1e" stroke-width="2" /><line x1="1047.7" y1="149.7" x2="1047.7" y2="282.8" stroke="#1e1e1e" stroke-width="2" /><line x1="972.7" y1="210.7" x2="1047.7" y2="210.7" stroke="#1e1e1e" stroke-width="2.2" /><line x1="972.7" y1="228" x2="1047.7" y2="228" stroke="#1e1e1e" stroke-width="2.2" /><line x1="940" y1="216.25" x2="1085" y2="216.25" stroke="#444" stroke-width="1" stroke-dasharray="5 3 1.5 3"/><line x1="942" y1="83.2" x2="1072" y2="83.2" stroke="#5a5a5a" stroke-width="1" stroke-dasharray="5 3 1.5 3"/><line x1="942" y1="349.3" x2="1072" y2="349.3" stroke="#5a5a5a" stroke-width="1" stroke-dasharray="5 3 1.5 3"/><line x1="1071.7" y1="77.5" x2="1151.25" y2="77.5" stroke="#5a5a5a" stroke-width="1.4" /><line x1="1071.7" y1="355" x2="1151.25" y2="355" stroke="#5a5a5a" stroke-width="1.4" /><line x1="1076.25" y1="83.3" x2="1128" y2="83.3" stroke="#5a5a5a" stroke-width="1.3" /><line x1="1076.25" y1="349.2" x2="1128" y2="349.2" stroke="#5a5a5a" stroke-width="1.3" /><line x1="1071.7" y1="112" x2="1101.25" y2="112" stroke="#1e1e1e" stroke-width="1.4" /><line x1="1071.7" y1="320.5" x2="1101.25" y2="320.5" stroke="#5a5a5a" stroke-width="1.3" /><line x1="1150" y1="77.5" x2="1150" y2="355" stroke="#5a5a5a" stroke-width="1.2" /><polygon points="1150,77.5 1147.8,83.5 1152.2,83.5" fill="#5a5a5a"/><polygon points="1150,355 1147.8,349 1152.2,349" fill="#5a5a5a"/><line x1="1126.7" y1="83.3" x2="1126.7" y2="349.2" stroke="#5a5a5a" stroke-width="1.2" /><polygon points="1126.7,83.3 1124.5,89.3 1128.9,89.3" fill="#5a5a5a"/><polygon points="1126.7,349.2 1124.5,343.2 1128.9,343.2" fill="#5a5a5a"/><line x1="1099.2" y1="112" x2="1099.2" y2="320.5" stroke="#5a5a5a" stroke-width="1.2" /><polygon points="1099.2,112 1097,118 1101.4,118" fill="#5a5a5a"/><polygon points="1099.2,320.5 1097,314.5 1101.4,314.5" fill="#5a5a5a"/><g transform="translate(1091.2 216.2) rotate(-90)"><text x="0" y="5.85" font-size="17" text-anchor="middle" font-weight="normal" fill="#222" stroke="#222" stroke-width="0.5" transform="scale(1 1)">J</text></g><g transform="translate(1118.3 215.5) rotate(-90)"><text x="0" y="5.85" font-size="17" text-anchor="middle" font-weight="normal" fill="#222" stroke="#222" stroke-width="0.5" transform="scale(1 1)">P</text></g><g transform="translate(1141.2 215.8) rotate(-90)"><text x="0" y="5.85" font-size="17" text-anchor="middle" font-weight="normal" fill="#222" stroke="#222" stroke-width="0.5" transform="scale(1 1)">O</text></g><line x1="928.5" y1="146.7" x2="972.7" y2="146.7" stroke="#5a5a5a" stroke-width="2" /><line x1="928.5" y1="285.8" x2="972.7" y2="285.8" stroke="#5a5a5a" stroke-width="2" /><line x1="930.7" y1="146.7" x2="930.7" y2="285.8" stroke="#1e1e1e" stroke-width="1.3" /><polygon points="930.7,146.7 928.5,152.7 932.9,152.7" fill="#1e1e1e"/><polygon points="930.7,285.8 928.5,279.8 932.9,279.8" fill="#1e1e1e"/><g transform="translate(921.5 215.5) rotate(-90)"><text x="0" y="5.85" font-size="17" text-anchor="middle" font-weight="normal" fill="#222" stroke="#222" stroke-width="0.5" transform="scale(1 1)">N</text></g><g transform="translate(1039.1 124.5)"><text x="0" y="5.85" font-size="17" text-anchor="middle" font-weight="normal" fill="#222" stroke="#222" stroke-width="0.5" transform="scale(1 1)">E</text></g><line x1="981" y1="132.7" x2="999.7" y2="132.7" stroke="#5a5a5a" stroke-width="2" /><polygon points="999.7,132.7 993.7,130.5 993.7,134.9" fill="#5a5a5a"/><line x1="1021.4" y1="132.7" x2="1049.2" y2="132.7" stroke="#5a5a5a" stroke-width="2" /><polygon points="1021.4,132.7 1027.4,130.5 1027.4,134.9" fill="#5a5a5a"/><line x1="948.7" y1="339.5" x2="948.7" y2="421" stroke="#5a5a5a" stroke-width="2" /><line x1="1071.7" y1="339.5" x2="1071.7" y2="421" stroke="#5a5a5a" stroke-width="2" /><line x1="972.7" y1="146.7" x2="972.7" y2="400" stroke="#1e1e1e" stroke-width="1.8" /><line x1="1047.7" y1="285.8" x2="1047.7" y2="400" stroke="#5a5a5a" stroke-width="1.2" /><line x1="972.7" y1="378.2" x2="1047.7" y2="378.2" stroke="#5a5a5a" stroke-width="1" /><polygon points="972.7,378.2 978.7,376 978.7,380.4" fill="#5a5a5a"/><polygon points="1047.7,378.2 1041.7,376 1041.7,380.4" fill="#5a5a5a"/><g transform="translate(1011.3 370)"><text x="0" y="5.85" font-size="17" text-anchor="middle" font-weight="normal" fill="#222" stroke="#222" stroke-width="0.5" transform="scale(1 1)">L</text></g><line x1="948.7" y1="396.6" x2="972.7" y2="396.6" stroke="#5a5a5a" stroke-width="1" /><polygon points="948.7,396.6 954.7,394.4 954.7,398.8" fill="#5a5a5a"/><polygon points="972.7,396.6 966.7,394.4 966.7,398.8" fill="#5a5a5a"/><g transform="translate(963 389.4)"><text x="0" y="5.85" font-size="17" text-anchor="middle" font-weight="normal" fill="#222" stroke="#222" stroke-width="0.5" transform="scale(1 1)">K</text></g><line x1="1047.7" y1="396.6" x2="1071.7" y2="396.6" stroke="#5a5a5a" stroke-width="1" /><polygon points="1047.7,396.6 1053.7,394.4 1053.7,398.8" fill="#5a5a5a"/><polygon points="1071.7,396.6 1065.7,394.4 1065.7,398.8" fill="#5a5a5a"/><g transform="translate(1062.7 387.2)"><text x="0" y="5.85" font-size="17" text-anchor="middle" font-weight="normal" fill="#222" stroke="#222" stroke-width="0.5" transform="scale(1 1)">M</text></g><line x1="948.7" y1="418.7" x2="1071.7" y2="418.7" stroke="#5a5a5a" stroke-width="1" /><polygon points="948.7,418.7 954.7,416.5 954.7,420.9" fill="#5a5a5a"/><polygon points="1071.7,418.7 1065.7,416.5 1065.7,420.9" fill="#5a5a5a"/><g transform="translate(1009.1 410)"><text x="0" y="5.85" font-size="17" text-anchor="middle" font-weight="normal" fill="#222" stroke="#222" stroke-width="0.5" transform="scale(1 1)">F</text></g><g transform="translate(1016.8 38.9)"><text x="0" y="5.85" font-size="17" text-anchor="middle" font-weight="bold" fill="#2b2b2b" stroke="#2b2b2b" stroke-width="0" transform="scale(0.9 1)">TYPE 6</text></g></svg>
<div style="position:absolute;left:0;top:475px;width:1200px;height:788px;background:#eafaff"></div>
<div class="h" style="left:-3px;top:475px;width:146px;height:64px"><div class="hc cn">型号</div><div class="hc en"><span>(Type)</span></div></div>
<div class="h" style="left:144px;top:475px;width:75.5px;height:64px"><div class="hc cn">槽数</div><div class="hc en"><span>(Grooves)</span></div></div>
<div class="h" style="left:220.5px;top:475px;width:76.5px;height:64px"><div class="hc cn">节圆</div><div class="hc en"><span>(P)</span></div></div>
<div class="h" style="left:298px;top:475px;width:75px;height:64px"><div class="hc cn">外径</div><div class="hc en"><span>(O)</span></div></div>
<div class="h" style="left:374px;top:475px;width:76px;height:64px"><div class="hc cn">图例</div><div class="hc en"><span>(Type)</span></div></div>
<div class="h" style="left:451px;top:475px;width:76px;height:64px"><div class="hc cn">锥套</div><div class="hc en"><span>(Bush)</span></div></div>
<div class="h" style="left:528px;top:475px;width:89px;height:64px"><div class="hc cn">最大孔</div><div class="hc en"><span>(Max Bore)</span></div></div>
<div class="h" style="left:618px;top:475px;width:89.5px;height:64px"><div class="hc cn">轮板厚</div><div class="hc en"><span>(E)</span></div></div>
<div class="h" style="left:708.5px;top:475px;width:75.5px;height:64px"><div class="hc cn">轮厚</div><div class="hc en"><span>(F)</span></div></div>
<div class="h" style="left:785px;top:475px;width:59px;height:64px"><div class="hc cn">止口</div><div class="hc en"><span>(J)</span></div></div>
<div class="h" style="left:845px;top:475px;width:76px;height:64px"><div class="hc cn">K</div><div class="hc en"><span>(K)</span></div></div>
<div class="h" style="left:922px;top:475px;width:75.5px;height:64px"><div class="hc cn">孔长</div><div class="hc en"><span>(L)</span></div></div>
<div class="h" style="left:998.5px;top:475px;width:75.5px;height:64px"><div class="hc cn">M</div><div class="hc en"><span>(M)</span></div></div>
<div class="h" style="left:1075px;top:475px;width:130px;height:64px"><div class="hc cn">小外圆直径</div><div class="hc en"><span>(N)</span></div></div>
<div class="c" style="left:-3px;top:540.00px;width:146px;height:29px;background:#9fd6f5"><span class="t">SPC200-06</span></div>
<div class="c" style="left:144px;top:540.00px;width:75.5px;height:29px;background:#9fd6f5"><span class="t">6</span></div>
<div class="c" style="left:220.5px;top:540.00px;width:76.5px;height:29px;background:#9fd6f5"><span class="t">200</span></div>
<div class="c" style="left:298px;top:540.00px;width:75px;height:29px;background:#9fd6f5"><span class="t">209.6</span></div>
<div class="c" style="left:374px;top:540.00px;width:76px;height:29px;background:#9fd6f5"><span class="t">3</span></div>
<div class="c" style="left:451px;top:540.00px;width:76px;height:29px;background:#9fd6f5"><span class="t">3535</span></div>
<div class="c" style="left:528px;top:540.00px;width:89px;height:29px;background:#9fd6f5"><span class="t">90</span></div>
<div class="c" style="left:618px;top:540.00px;width:89.5px;height:29px;background:#9fd6f5"><span class="t">-</span></div>
<div class="c" style="left:708.5px;top:540.00px;width:75.5px;height:29px;background:#9fd6f5"><span class="t">162</span></div>
<div class="c" style="left:785px;top:540.00px;width:59px;height:29px;background:#9fd6f5"><span class="t">148</span></div>
<div class="c" style="left:845px;top:540.00px;width:76px;height:29px;background:#9fd6f5"><span class="t">36.5</span></div>
<div class="c" style="left:922px;top:540.00px;width:75.5px;height:29px;background:#9fd6f5"><span class="t">89</span></div>
<div class="c" style="left:998.5px;top:540.00px;width:75.5px;height:29px;background:#9fd6f5"><span class="t">36.5</span></div>
<div class="c" style="left:1075px;top:540.00px;width:130px;height:29px;background:#9fd6f5"><span class="t">-</span></div>
<div class="c" style="left:-3px;top:570.22px;width:146px;height:29px;background:#e8f5fd"><span class="t">SPC212-06</span></div>
<div class="c" style="left:144px;top:570.22px;width:75.5px;height:29px;background:#e8f5fd"><span class="t">6</span></div>
<div class="c" style="left:220.5px;top:570.22px;width:76.5px;height:29px;background:#e8f5fd"><span class="t">212</span></div>
<div class="c" style="left:298px;top:570.22px;width:75px;height:29px;background:#e8f5fd"><span class="t">221.6</span></div>
<div class="c" style="left:374px;top:570.22px;width:76px;height:29px;background:#e8f5fd"><span class="t">3</span></div>
<div class="c" style="left:451px;top:570.22px;width:76px;height:29px;background:#e8f5fd"><span class="t">3535</span></div>
<div class="c" style="left:528px;top:570.22px;width:89px;height:29px;background:#e8f5fd"><span class="t">90</span></div>
<div class="c" style="left:618px;top:570.22px;width:89.5px;height:29px;background:#e8f5fd"><span class="t">-</span></div>
<div class="c" style="left:708.5px;top:570.22px;width:75.5px;height:29px;background:#e8f5fd"><span class="t">162</span></div>
<div class="c" style="left:785px;top:570.22px;width:59px;height:29px;background:#e8f5fd"><span class="t">160</span></div>
<div class="c" style="left:845px;top:570.22px;width:76px;height:29px;background:#e8f5fd"><span class="t">36.5</span></div>
<div class="c" style="left:922px;top:570.22px;width:75.5px;height:29px;background:#e8f5fd"><span class="t">89</span></div>
<div class="c" style="left:998.5px;top:570.22px;width:75.5px;height:29px;background:#e8f5fd"><span class="t">36.5</span></div>
<div class="c" style="left:1075px;top:570.22px;width:130px;height:29px;background:#e8f5fd"><span class="t">-</span></div>
<div class="c" style="left:-3px;top:600.44px;width:146px;height:29px;background:#9fd6f5"><span class="t">SPC224-06</span></div>
<div class="c" style="left:144px;top:600.44px;width:75.5px;height:29px;background:#9fd6f5"><span class="t">6</span></div>
<div class="c" style="left:220.5px;top:600.44px;width:76.5px;height:29px;background:#9fd6f5"><span class="t">224</span></div>
<div class="c" style="left:298px;top:600.44px;width:75px;height:29px;background:#9fd6f5"><span class="t">233.6</span></div>
<div class="c" style="left:374px;top:600.44px;width:76px;height:29px;background:#9fd6f5"><span class="t">3</span></div>
<div class="c" style="left:451px;top:600.44px;width:76px;height:29px;background:#9fd6f5"><span class="t">3535</span></div>
<div class="c" style="left:528px;top:600.44px;width:89px;height:29px;background:#9fd6f5"><span class="t">90</span></div>
<div class="c" style="left:618px;top:600.44px;width:89.5px;height:29px;background:#9fd6f5"><span class="t">-</span></div>
<div class="c" style="left:708.5px;top:600.44px;width:75.5px;height:29px;background:#9fd6f5"><span class="t">162</span></div>
<div class="c" style="left:785px;top:600.44px;width:59px;height:29px;background:#9fd6f5"><span class="t">173</span></div>
<div class="c" style="left:845px;top:600.44px;width:76px;height:29px;background:#9fd6f5"><span class="t">36.5</span></div>
<div class="c" style="left:922px;top:600.44px;width:75.5px;height:29px;background:#9fd6f5"><span class="t">89</span></div>
<div class="c" style="left:998.5px;top:600.44px;width:75.5px;height:29px;background:#9fd6f5"><span class="t">36.5</span></div>
<div class="c" style="left:1075px;top:600.44px;width:130px;height:29px;background:#9fd6f5"><span class="t">-</span></div>
<div class="c" style="left:-3px;top:630.66px;width:146px;height:29px;background:#e8f5fd"><span class="t">SPC236-06</span></div>
<div class="c" style="left:144px;top:630.66px;width:75.5px;height:29px;background:#e8f5fd"><span class="t">6</span></div>
<div class="c" style="left:220.5px;top:630.66px;width:76.5px;height:29px;background:#e8f5fd"><span class="t">236</span></div>
<div class="c" style="left:298px;top:630.66px;width:75px;height:29px;background:#e8f5fd"><span class="t">245.6</span></div>
<div class="c" style="left:374px;top:630.66px;width:76px;height:29px;background:#e8f5fd"><span class="t">3</span></div>
<div class="c" style="left:451px;top:630.66px;width:76px;height:29px;background:#e8f5fd"><span class="t">3535</span></div>
<div class="c" style="left:528px;top:630.66px;width:89px;height:29px;background:#e8f5fd"><span class="t">90</span></div>
<div class="c" style="left:618px;top:630.66px;width:89.5px;height:29px;background:#e8f5fd"><span class="t">-</span></div>
<div class="c" style="left:708.5px;top:630.66px;width:75.5px;height:29px;background:#e8f5fd"><span class="t">162</span></div>
<div class="c" style="left:785px;top:630.66px;width:59px;height:29px;background:#e8f5fd"><span class="t">185</span></div>
<div class="c" style="left:845px;top:630.66px;width:76px;height:29px;background:#e8f5fd"><span class="t">36.5</span></div>
<div class="c" style="left:922px;top:630.66px;width:75.5px;height:29px;background:#e8f5fd"><span class="t">89</span></div>
<div class="c" style="left:998.5px;top:630.66px;width:75.5px;height:29px;background:#e8f5fd"><span class="t">36.5</span></div>
<div class="c" style="left:1075px;top:630.66px;width:130px;height:29px;background:#e8f5fd"><span class="t">-</span></div>
<div class="c" style="left:-3px;top:660.88px;width:146px;height:29px;background:#9fd6f5"><span class="t">SPC250-06</span></div>
<div class="c" style="left:144px;top:660.88px;width:75.5px;height:29px;background:#9fd6f5"><span class="t">6</span></div>
<div class="c" style="left:220.5px;top:660.88px;width:76.5px;height:29px;background:#9fd6f5"><span class="t">250</span></div>
<div class="c" style="left:298px;top:660.88px;width:75px;height:29px;background:#9fd6f5"><span class="t">259.6</span></div>
<div class="c" style="left:374px;top:660.88px;width:76px;height:29px;background:#9fd6f5"><span class="t">3</span></div>
<div class="c" style="left:451px;top:660.88px;width:76px;height:29px;background:#9fd6f5"><span class="t">3535</span></div>
<div class="c" style="left:528px;top:660.88px;width:89px;height:29px;background:#9fd6f5"><span class="t">90</span></div>
<div class="c" style="left:618px;top:660.88px;width:89.5px;height:29px;background:#9fd6f5"><span class="t">-</span></div>
<div class="c" style="left:708.5px;top:660.88px;width:75.5px;height:29px;background:#9fd6f5"><span class="t">162</span></div>
<div class="c" style="left:785px;top:660.88px;width:59px;height:29px;background:#9fd6f5"><span class="t">198</span></div>
<div class="c" style="left:845px;top:660.88px;width:76px;height:29px;background:#9fd6f5"><span class="t">36.5</span></div>
<div class="c" style="left:922px;top:660.88px;width:75.5px;height:29px;background:#9fd6f5"><span class="t">89</span></div>
<div class="c" style="left:998.5px;top:660.88px;width:75.5px;height:29px;background:#9fd6f5"><span class="t">36.5</span></div>
<div class="c" style="left:1075px;top:660.88px;width:130px;height:29px;background:#9fd6f5"><span class="t">-</span></div>
<div class="c" style="left:-3px;top:691.10px;width:146px;height:29px;background:#e8f5fd"><span class="t">SPC265-06</span></div>
<div class="c" style="left:144px;top:691.10px;width:75.5px;height:29px;background:#e8f5fd"><span class="t">6</span></div>
<div class="c" style="left:220.5px;top:691.10px;width:76.5px;height:29px;background:#e8f5fd"><span class="t">265</span></div>
<div class="c" style="left:298px;top:691.10px;width:75px;height:29px;background:#e8f5fd"><span class="t">274.6</span></div>
<div class="c" style="left:374px;top:691.10px;width:76px;height:29px;background:#e8f5fd"><span class="t">3</span></div>
<div class="c" style="left:451px;top:691.10px;width:76px;height:29px;background:#e8f5fd"><span class="t">3535</span></div>
<div class="c" style="left:528px;top:691.10px;width:89px;height:29px;background:#e8f5fd"><span class="t">90</span></div>
<div class="c" style="left:618px;top:691.10px;width:89.5px;height:29px;background:#e8f5fd"><span class="t">-</span></div>
<div class="c" style="left:708.5px;top:691.10px;width:75.5px;height:29px;background:#e8f5fd"><span class="t">162</span></div>
<div class="c" style="left:785px;top:691.10px;width:59px;height:29px;background:#e8f5fd"><span class="t">213</span></div>
<div class="c" style="left:845px;top:691.10px;width:76px;height:29px;background:#e8f5fd"><span class="t">36.5</span></div>
<div class="c" style="left:922px;top:691.10px;width:75.5px;height:29px;background:#e8f5fd"><span class="t">89</span></div>
<div class="c" style="left:998.5px;top:691.10px;width:75.5px;height:29px;background:#e8f5fd"><span class="t">36.5</span></div>
<div class="c" style="left:1075px;top:691.10px;width:130px;height:29px;background:#e8f5fd"><span class="t">-</span></div>
<div class="c" style="left:-3px;top:721.32px;width:146px;height:29px;background:#9fd6f5"><span class="t">SPC280-06</span></div>
<div class="c" style="left:144px;top:721.32px;width:75.5px;height:29px;background:#9fd6f5"><span class="t">6</span></div>
<div class="c" style="left:220.5px;top:721.32px;width:76.5px;height:29px;background:#9fd6f5"><span class="t">280</span></div>
<div class="c" style="left:298px;top:721.32px;width:75px;height:29px;background:#9fd6f5"><span class="t">289.6</span></div>
<div class="c" style="left:374px;top:721.32px;width:76px;height:29px;background:#9fd6f5"><span class="t">6</span></div>
<div class="c" style="left:451px;top:721.32px;width:76px;height:29px;background:#9fd6f5"><span class="t">3535</span></div>
<div class="c" style="left:528px;top:721.32px;width:89px;height:29px;background:#9fd6f5"><span class="t">90</span></div>
<div class="c" style="left:618px;top:721.32px;width:89.5px;height:29px;background:#9fd6f5"><span class="t">-</span></div>
<div class="c" style="left:708.5px;top:721.32px;width:75.5px;height:29px;background:#9fd6f5"><span class="t">162</span></div>
<div class="c" style="left:785px;top:721.32px;width:59px;height:29px;background:#9fd6f5"><span class="t">228</span></div>
<div class="c" style="left:845px;top:721.32px;width:76px;height:29px;background:#9fd6f5"><span class="t">36.5</span></div>
<div class="c" style="left:922px;top:721.32px;width:75.5px;height:29px;background:#9fd6f5"><span class="t">89</span></div>
<div class="c" style="left:998.5px;top:721.32px;width:75.5px;height:29px;background:#9fd6f5"><span class="t">36.5</span></div>
<div class="c" style="left:1075px;top:721.32px;width:130px;height:29px;background:#9fd6f5"><span class="t">-</span></div>
<div class="c" style="left:-3px;top:751.54px;width:146px;height:29px;background:#e8f5fd"><span class="t">SPC300-06</span></div>
<div class="c" style="left:144px;top:751.54px;width:75.5px;height:29px;background:#e8f5fd"><span class="t">6</span></div>
<div class="c" style="left:220.5px;top:751.54px;width:76.5px;height:29px;background:#e8f5fd"><span class="t">300</span></div>
<div class="c" style="left:298px;top:751.54px;width:75px;height:29px;background:#e8f5fd"><span class="t">309.6</span></div>
<div class="c" style="left:374px;top:751.54px;width:76px;height:29px;background:#e8f5fd"><span class="t">6</span></div>
<div class="c" style="left:451px;top:751.54px;width:76px;height:29px;background:#e8f5fd"><span class="t">3535</span></div>
<div class="c" style="left:528px;top:751.54px;width:89px;height:29px;background:#e8f5fd"><span class="t">90</span></div>
<div class="c" style="left:618px;top:751.54px;width:89.5px;height:29px;background:#e8f5fd"><span class="t">20</span></div>
<div class="c" style="left:708.5px;top:751.54px;width:75.5px;height:29px;background:#e8f5fd"><span class="t">162</span></div>
<div class="c" style="left:785px;top:751.54px;width:59px;height:29px;background:#e8f5fd"><span class="t">248</span></div>
<div class="c" style="left:845px;top:751.54px;width:76px;height:29px;background:#e8f5fd"><span class="t">36.5</span></div>
<div class="c" style="left:922px;top:751.54px;width:75.5px;height:29px;background:#e8f5fd"><span class="t">89</span></div>
<div class="c" style="left:998.5px;top:751.54px;width:75.5px;height:29px;background:#e8f5fd"><span class="t">36.5</span></div>
<div class="c" style="left:1075px;top:751.54px;width:130px;height:29px;background:#e8f5fd"><span class="t">170</span></div>
<div class="c" style="left:-3px;top:781.76px;width:146px;height:29px;background:#9fd6f5"><span class="t">SPC315-06</span></div>
<div class="c" style="left:144px;top:781.76px;width:75.5px;height:29px;background:#9fd6f5"><span class="t">6</span></div>
<div class="c" style="left:220.5px;top:781.76px;width:76.5px;height:29px;background:#9fd6f5"><span class="t">315</span></div>
<div class="c" style="left:298px;top:781.76px;width:75px;height:29px;background:#9fd6f5"><span class="t">324.6</span></div>
<div class="c" style="left:374px;top:781.76px;width:76px;height:29px;background:#9fd6f5"><span class="t">6</span></div>
<div class="c" style="left:451px;top:781.76px;width:76px;height:29px;background:#9fd6f5"><span class="t">3535</span></div>
<div class="c" style="left:528px;top:781.76px;width:89px;height:29px;background:#9fd6f5"><span class="t">90</span></div>
<div class="c" style="left:618px;top:781.76px;width:89.5px;height:29px;background:#9fd6f5"><span class="t">20</span></div>
<div class="c" style="left:708.5px;top:781.76px;width:75.5px;height:29px;background:#9fd6f5"><span class="t">162</span></div>
<div class="c" style="left:785px;top:781.76px;width:59px;height:29px;background:#9fd6f5"><span class="t">264</span></div>
<div class="c" style="left:845px;top:781.76px;width:76px;height:29px;background:#9fd6f5"><span class="t">36.5</span></div>
<div class="c" style="left:922px;top:781.76px;width:75.5px;height:29px;background:#9fd6f5"><span class="t">89</span></div>
<div class="c" style="left:998.5px;top:781.76px;width:75.5px;height:29px;background:#9fd6f5"><span class="t">36.5</span></div>
<div class="c" style="left:1075px;top:781.76px;width:130px;height:29px;background:#9fd6f5"><span class="t">170</span></div>
<div class="c" style="left:-3px;top:811.98px;width:146px;height:29px;background:#e8f5fd"><span class="t">SPC335-06</span></div>
<div class="c" style="left:144px;top:811.98px;width:75.5px;height:29px;background:#e8f5fd"><span class="t">6</span></div>
<div class="c" style="left:220.5px;top:811.98px;width:76.5px;height:29px;background:#e8f5fd"><span class="t">335</span></div>
<div class="c" style="left:298px;top:811.98px;width:75px;height:29px;background:#e8f5fd"><span class="t">344.6</span></div>
<div class="c" style="left:374px;top:811.98px;width:76px;height:29px;background:#e8f5fd"><span class="t">6</span></div>
<div class="c" style="left:451px;top:811.98px;width:76px;height:29px;background:#e8f5fd"><span class="t">3535</span></div>
<div class="c" style="left:528px;top:811.98px;width:89px;height:29px;background:#e8f5fd"><span class="t">90</span></div>
<div class="c" style="left:618px;top:811.98px;width:89.5px;height:29px;background:#e8f5fd"><span class="t">20</span></div>
<div class="c" style="left:708.5px;top:811.98px;width:75.5px;height:29px;background:#e8f5fd"><span class="t">162</span></div>
<div class="c" style="left:785px;top:811.98px;width:59px;height:29px;background:#e8f5fd"><span class="t">283</span></div>
<div class="c" style="left:845px;top:811.98px;width:76px;height:29px;background:#e8f5fd"><span class="t">36.5</span></div>
<div class="c" style="left:922px;top:811.98px;width:75.5px;height:29px;background:#e8f5fd"><span class="t">89</span></div>
<div class="c" style="left:998.5px;top:811.98px;width:75.5px;height:29px;background:#e8f5fd"><span class="t">36.5</span></div>
<div class="c" style="left:1075px;top:811.98px;width:130px;height:29px;background:#e8f5fd"><span class="t">170</span></div>
<div class="c" style="left:-3px;top:842.20px;width:146px;height:29px;background:#9fd6f5"><span class="t">SPC355-06</span></div>
<div class="c" style="left:144px;top:842.20px;width:75.5px;height:29px;background:#9fd6f5"><span class="t">6</span></div>
<div class="c" style="left:220.5px;top:842.20px;width:76.5px;height:29px;background:#9fd6f5"><span class="t">355</span></div>
<div class="c" style="left:298px;top:842.20px;width:75px;height:29px;background:#9fd6f5"><span class="t">364.6</span></div>
<div class="c" style="left:374px;top:842.20px;width:76px;height:29px;background:#9fd6f5"><span class="t">6</span></div>
<div class="c" style="left:451px;top:842.20px;width:76px;height:29px;background:#9fd6f5"><span class="t">3535</span></div>
<div class="c" style="left:528px;top:842.20px;width:89px;height:29px;background:#9fd6f5"><span class="t">90</span></div>
<div class="c" style="left:618px;top:842.20px;width:89.5px;height:29px;background:#9fd6f5"><span class="t">20</span></div>
<div class="c" style="left:708.5px;top:842.20px;width:75.5px;height:29px;background:#9fd6f5"><span class="t">162</span></div>
<div class="c" style="left:785px;top:842.20px;width:59px;height:29px;background:#9fd6f5"><span class="t">304</span></div>
<div class="c" style="left:845px;top:842.20px;width:76px;height:29px;background:#9fd6f5"><span class="t">36.5</span></div>
<div class="c" style="left:922px;top:842.20px;width:75.5px;height:29px;background:#9fd6f5"><span class="t">89</span></div>
<div class="c" style="left:998.5px;top:842.20px;width:75.5px;height:29px;background:#9fd6f5"><span class="t">36.5</span></div>
<div class="c" style="left:1075px;top:842.20px;width:130px;height:29px;background:#9fd6f5"><span class="t">170</span></div>
<div class="c" style="left:-3px;top:872.42px;width:146px;height:29px;background:#e8f5fd"><span class="t">SPC375-06</span></div>
<div class="c" style="left:144px;top:872.42px;width:75.5px;height:29px;background:#e8f5fd"><span class="t">6</span></div>
<div class="c" style="left:220.5px;top:872.42px;width:76.5px;height:29px;background:#e8f5fd"><span class="t">375</span></div>
<div class="c" style="left:298px;top:872.42px;width:75px;height:29px;background:#e8f5fd"><span class="t">384.6</span></div>
<div class="c" style="left:374px;top:872.42px;width:76px;height:29px;background:#e8f5fd"><span class="t">6</span></div>
<div class="c" style="left:451px;top:872.42px;width:76px;height:29px;background:#e8f5fd"><span class="t">4040</span></div>
<div class="c" style="left:528px;top:872.42px;width:89px;height:29px;background:#e8f5fd"><span class="t">100</span></div>
<div class="c" style="left:618px;top:872.42px;width:89.5px;height:29px;background:#e8f5fd"><span class="t">20</span></div>
<div class="c" style="left:708.5px;top:872.42px;width:75.5px;height:29px;background:#e8f5fd"><span class="t">162</span></div>
<div class="c" style="left:785px;top:872.42px;width:59px;height:29px;background:#e8f5fd"><span class="t">324</span></div>
<div class="c" style="left:845px;top:872.42px;width:76px;height:29px;background:#e8f5fd"><span class="t">30</span></div>
<div class="c" style="left:922px;top:872.42px;width:75.5px;height:29px;background:#e8f5fd"><span class="t">102</span></div>
<div class="c" style="left:998.5px;top:872.42px;width:75.5px;height:29px;background:#e8f5fd"><span class="t">30</span></div>
<div class="c" style="left:1075px;top:872.42px;width:130px;height:29px;background:#e8f5fd"><span class="t">200</span></div>
<div class="c" style="left:-3px;top:902.64px;width:146px;height:29px;background:#9fd6f5"><span class="t">SPC400-06</span></div>
<div class="c" style="left:144px;top:902.64px;width:75.5px;height:29px;background:#9fd6f5"><span class="t">6</span></div>
<div class="c" style="left:220.5px;top:902.64px;width:76.5px;height:29px;background:#9fd6f5"><span class="t">400</span></div>
<div class="c" style="left:298px;top:902.64px;width:75px;height:29px;background:#9fd6f5"><span class="t">409.6</span></div>
<div class="c" style="left:374px;top:902.64px;width:76px;height:29px;background:#9fd6f5"><span class="t">6</span></div>
<div class="c" style="left:451px;top:902.64px;width:76px;height:29px;background:#9fd6f5"><span class="t">4040</span></div>
<div class="c" style="left:528px;top:902.64px;width:89px;height:29px;background:#9fd6f5"><span class="t">100</span></div>
<div class="c" style="left:618px;top:902.64px;width:89.5px;height:29px;background:#9fd6f5"><span class="t">20</span></div>
<div class="c" style="left:708.5px;top:902.64px;width:75.5px;height:29px;background:#9fd6f5"><span class="t">162</span></div>
<div class="c" style="left:785px;top:902.64px;width:59px;height:29px;background:#9fd6f5"><span class="t">348</span></div>
<div class="c" style="left:845px;top:902.64px;width:76px;height:29px;background:#9fd6f5"><span class="t">30</span></div>
<div class="c" style="left:922px;top:902.64px;width:75.5px;height:29px;background:#9fd6f5"><span class="t">102</span></div>
<div class="c" style="left:998.5px;top:902.64px;width:75.5px;height:29px;background:#9fd6f5"><span class="t">30</span></div>
<div class="c" style="left:1075px;top:902.64px;width:130px;height:29px;background:#9fd6f5"><span class="t">200</span></div>
<div class="c" style="left:-3px;top:932.86px;width:146px;height:29px;background:#e8f5fd"><span class="t">SPC425-06</span></div>
<div class="c" style="left:144px;top:932.86px;width:75.5px;height:29px;background:#e8f5fd"><span class="t">6</span></div>
<div class="c" style="left:220.5px;top:932.86px;width:76.5px;height:29px;background:#e8f5fd"><span class="t">425</span></div>
<div class="c" style="left:298px;top:932.86px;width:75px;height:29px;background:#e8f5fd"><span class="t">434.6</span></div>
<div class="c" style="left:374px;top:932.86px;width:76px;height:29px;background:#e8f5fd"><span class="t">6</span></div>
<div class="c" style="left:451px;top:932.86px;width:76px;height:29px;background:#e8f5fd"><span class="t">4545</span></div>
<div class="c" style="left:528px;top:932.86px;width:89px;height:29px;background:#e8f5fd"><span class="t">110</span></div>
<div class="c" style="left:618px;top:932.86px;width:89.5px;height:29px;background:#e8f5fd"><span class="t">30</span></div>
<div class="c" style="left:708.5px;top:932.86px;width:75.5px;height:29px;background:#e8f5fd"><span class="t">162</span></div>
<div class="c" style="left:785px;top:932.86px;width:59px;height:29px;background:#e8f5fd"><span class="t">369</span></div>
<div class="c" style="left:845px;top:932.86px;width:76px;height:29px;background:#e8f5fd"><span class="t">24</span></div>
<div class="c" style="left:922px;top:932.86px;width:75.5px;height:29px;background:#e8f5fd"><span class="t">114</span></div>
<div class="c" style="left:998.5px;top:932.86px;width:75.5px;height:29px;background:#e8f5fd"><span class="t">24</span></div>
<div class="c" style="left:1075px;top:932.86px;width:130px;height:29px;background:#e8f5fd"><span class="t">225</span></div>
<div class="c" style="left:-3px;top:963.08px;width:146px;height:29px;background:#9fd6f5"><span class="t">SPC450-06</span></div>
<div class="c" style="left:144px;top:963.08px;width:75.5px;height:29px;background:#9fd6f5"><span class="t">6</span></div>
<div class="c" style="left:220.5px;top:963.08px;width:76.5px;height:29px;background:#9fd6f5"><span class="t">450</span></div>
<div class="c" style="left:298px;top:963.08px;width:75px;height:29px;background:#9fd6f5"><span class="t">459.6</span></div>
<div class="c" style="left:374px;top:963.08px;width:76px;height:29px;background:#9fd6f5"><span class="t">6</span></div>
<div class="c" style="left:451px;top:963.08px;width:76px;height:29px;background:#9fd6f5"><span class="t">4545</span></div>
<div class="c" style="left:528px;top:963.08px;width:89px;height:29px;background:#9fd6f5"><span class="t">110</span></div>
<div class="c" style="left:618px;top:963.08px;width:89.5px;height:29px;background:#9fd6f5"><span class="t">30</span></div>
<div class="c" style="left:708.5px;top:963.08px;width:75.5px;height:29px;background:#9fd6f5"><span class="t">162</span></div>
<div class="c" style="left:785px;top:963.08px;width:59px;height:29px;background:#9fd6f5"><span class="t">394</span></div>
<div class="c" style="left:845px;top:963.08px;width:76px;height:29px;background:#9fd6f5"><span class="t">24</span></div>
<div class="c" style="left:922px;top:963.08px;width:75.5px;height:29px;background:#9fd6f5"><span class="t">114</span></div>
<div class="c" style="left:998.5px;top:963.08px;width:75.5px;height:29px;background:#9fd6f5"><span class="t">24</span></div>
<div class="c" style="left:1075px;top:963.08px;width:130px;height:29px;background:#9fd6f5"><span class="t">225</span></div>
<div class="c" style="left:-3px;top:993.30px;width:146px;height:29px;background:#e8f5fd"><span class="t">SPC475-06</span></div>
<div class="c" style="left:144px;top:993.30px;width:75.5px;height:29px;background:#e8f5fd"><span class="t">6</span></div>
<div class="c" style="left:220.5px;top:993.30px;width:76.5px;height:29px;background:#e8f5fd"><span class="t">475</span></div>
<div class="c" style="left:298px;top:993.30px;width:75px;height:29px;background:#e8f5fd"><span class="t">484.6</span></div>
<div class="c" style="left:374px;top:993.30px;width:76px;height:29px;background:#e8f5fd"><span class="t">6</span></div>
<div class="c" style="left:451px;top:993.30px;width:76px;height:29px;background:#e8f5fd"><span class="t">4545</span></div>
<div class="c" style="left:528px;top:993.30px;width:89px;height:29px;background:#e8f5fd"><span class="t">110</span></div>
<div class="c" style="left:618px;top:993.30px;width:89.5px;height:29px;background:#e8f5fd"><span class="t">30</span></div>
<div class="c" style="left:708.5px;top:993.30px;width:75.5px;height:29px;background:#e8f5fd"><span class="t">162</span></div>
<div class="c" style="left:785px;top:993.30px;width:59px;height:29px;background:#e8f5fd"><span class="t">419</span></div>
<div class="c" style="left:845px;top:993.30px;width:76px;height:29px;background:#e8f5fd"><span class="t">24</span></div>
<div class="c" style="left:922px;top:993.30px;width:75.5px;height:29px;background:#e8f5fd"><span class="t">114</span></div>
<div class="c" style="left:998.5px;top:993.30px;width:75.5px;height:29px;background:#e8f5fd"><span class="t">24</span></div>
<div class="c" style="left:1075px;top:993.30px;width:130px;height:29px;background:#e8f5fd"><span class="t">225</span></div>
<div class="c" style="left:-3px;top:1023.52px;width:146px;height:29px;background:#9fd6f5"><span class="t">SPC500-06</span></div>
<div class="c" style="left:144px;top:1023.52px;width:75.5px;height:29px;background:#9fd6f5"><span class="t">6</span></div>
<div class="c" style="left:220.5px;top:1023.52px;width:76.5px;height:29px;background:#9fd6f5"><span class="t">500</span></div>
<div class="c" style="left:298px;top:1023.52px;width:75px;height:29px;background:#9fd6f5"><span class="t">509.6</span></div>
<div class="c" style="left:374px;top:1023.52px;width:76px;height:29px;background:#9fd6f5"><span class="t">5</span></div>
<div class="c" style="left:451px;top:1023.52px;width:76px;height:29px;background:#9fd6f5"><span class="t">4545</span></div>
<div class="c" style="left:528px;top:1023.52px;width:89px;height:29px;background:#9fd6f5"><span class="t">110</span></div>
<div class="c" style="left:618px;top:1023.52px;width:89.5px;height:29px;background:#9fd6f5"><span class="t">30</span></div>
<div class="c" style="left:708.5px;top:1023.52px;width:75.5px;height:29px;background:#9fd6f5"><span class="t">162</span></div>
<div class="c" style="left:785px;top:1023.52px;width:59px;height:29px;background:#9fd6f5"><span class="t">444</span></div>
<div class="c" style="left:845px;top:1023.52px;width:76px;height:29px;background:#9fd6f5"><span class="t">24</span></div>
<div class="c" style="left:922px;top:1023.52px;width:75.5px;height:29px;background:#9fd6f5"><span class="t">114</span></div>
<div class="c" style="left:998.5px;top:1023.52px;width:75.5px;height:29px;background:#9fd6f5"><span class="t">24</span></div>
<div class="c" style="left:1075px;top:1023.52px;width:130px;height:29px;background:#9fd6f5"><span class="t">225</span></div>
<div class="c" style="left:-3px;top:1053.74px;width:146px;height:29px;background:#e8f5fd"><span class="t">SPC530-06</span></div>
<div class="c" style="left:144px;top:1053.74px;width:75.5px;height:29px;background:#e8f5fd"><span class="t">6</span></div>
<div class="c" style="left:220.5px;top:1053.74px;width:76.5px;height:29px;background:#e8f5fd"><span class="t">530</span></div>
<div class="c" style="left:298px;top:1053.74px;width:75px;height:29px;background:#e8f5fd"><span class="t">539.6</span></div>
<div class="c" style="left:374px;top:1053.74px;width:76px;height:29px;background:#e8f5fd"><span class="t">5</span></div>
<div class="c" style="left:451px;top:1053.74px;width:76px;height:29px;background:#e8f5fd"><span class="t">4545</span></div>
<div class="c" style="left:528px;top:1053.74px;width:89px;height:29px;background:#e8f5fd"><span class="t">110</span></div>
<div class="c" style="left:618px;top:1053.74px;width:89.5px;height:29px;background:#e8f5fd"><span class="t">30</span></div>
<div class="c" style="left:708.5px;top:1053.74px;width:75.5px;height:29px;background:#e8f5fd"><span class="t">162</span></div>
<div class="c" style="left:785px;top:1053.74px;width:59px;height:29px;background:#e8f5fd"><span class="t">474</span></div>
<div class="c" style="left:845px;top:1053.74px;width:76px;height:29px;background:#e8f5fd"><span class="t">24</span></div>
<div class="c" style="left:922px;top:1053.74px;width:75.5px;height:29px;background:#e8f5fd"><span class="t">114</span></div>
<div class="c" style="left:998.5px;top:1053.74px;width:75.5px;height:29px;background:#e8f5fd"><span class="t">24</span></div>
<div class="c" style="left:1075px;top:1053.74px;width:130px;height:29px;background:#e8f5fd"><span class="t">225</span></div>
<div class="c" style="left:-3px;top:1083.96px;width:146px;height:29px;background:#9fd6f5"><span class="t">SPC560-06</span></div>
<div class="c" style="left:144px;top:1083.96px;width:75.5px;height:29px;background:#9fd6f5"><span class="t">6</span></div>
<div class="c" style="left:220.5px;top:1083.96px;width:76.5px;height:29px;background:#9fd6f5"><span class="t">560</span></div>
<div class="c" style="left:298px;top:1083.96px;width:75px;height:29px;background:#9fd6f5"><span class="t">569.6</span></div>
<div class="c" style="left:374px;top:1083.96px;width:76px;height:29px;background:#9fd6f5"><span class="t">5</span></div>
<div class="c" style="left:451px;top:1083.96px;width:76px;height:29px;background:#9fd6f5"><span class="t">5050</span></div>
<div class="c" style="left:528px;top:1083.96px;width:89px;height:29px;background:#9fd6f5"><span class="t">125</span></div>
<div class="c" style="left:618px;top:1083.96px;width:89.5px;height:29px;background:#9fd6f5"><span class="t">-</span></div>
<div class="c" style="left:708.5px;top:1083.96px;width:75.5px;height:29px;background:#9fd6f5"><span class="t">162</span></div>
<div class="c" style="left:785px;top:1083.96px;width:59px;height:29px;background:#9fd6f5"><span class="t">504</span></div>
<div class="c" style="left:845px;top:1083.96px;width:76px;height:29px;background:#9fd6f5"><span class="t">17.5</span></div>
<div class="c" style="left:922px;top:1083.96px;width:75.5px;height:29px;background:#9fd6f5"><span class="t">127</span></div>
<div class="c" style="left:998.5px;top:1083.96px;width:75.5px;height:29px;background:#9fd6f5"><span class="t">17.5</span></div>
<div class="c" style="left:1075px;top:1083.96px;width:130px;height:29px;background:#9fd6f5"><span class="t">245</span></div>
<div class="c" style="left:-3px;top:1114.18px;width:146px;height:29px;background:#e8f5fd"><span class="t">SPC630-06</span></div>
<div class="c" style="left:144px;top:1114.18px;width:75.5px;height:29px;background:#e8f5fd"><span class="t">6</span></div>
<div class="c" style="left:220.5px;top:1114.18px;width:76.5px;height:29px;background:#e8f5fd"><span class="t">630</span></div>
<div class="c" style="left:298px;top:1114.18px;width:75px;height:29px;background:#e8f5fd"><span class="t">639.6</span></div>
<div class="c" style="left:374px;top:1114.18px;width:76px;height:29px;background:#e8f5fd"><span class="t">5</span></div>
<div class="c" style="left:451px;top:1114.18px;width:76px;height:29px;background:#e8f5fd"><span class="t">5050</span></div>
<div class="c" style="left:528px;top:1114.18px;width:89px;height:29px;background:#e8f5fd"><span class="t">125</span></div>
<div class="c" style="left:618px;top:1114.18px;width:89.5px;height:29px;background:#e8f5fd"><span class="t">-</span></div>
<div class="c" style="left:708.5px;top:1114.18px;width:75.5px;height:29px;background:#e8f5fd"><span class="t">162</span></div>
<div class="c" style="left:785px;top:1114.18px;width:59px;height:29px;background:#e8f5fd"><span class="t">574</span></div>
<div class="c" style="left:845px;top:1114.18px;width:76px;height:29px;background:#e8f5fd"><span class="t">17.5</span></div>
<div class="c" style="left:922px;top:1114.18px;width:75.5px;height:29px;background:#e8f5fd"><span class="t">127</span></div>
<div class="c" style="left:998.5px;top:1114.18px;width:75.5px;height:29px;background:#e8f5fd"><span class="t">17.5</span></div>
<div class="c" style="left:1075px;top:1114.18px;width:130px;height:29px;background:#e8f5fd"><span class="t">245</span></div>
<div class="c" style="left:-3px;top:1144.40px;width:146px;height:29px;background:#9fd6f5"><span class="t">SPC710-06</span></div>
<div class="c" style="left:144px;top:1144.40px;width:75.5px;height:29px;background:#9fd6f5"><span class="t">6</span></div>
<div class="c" style="left:220.5px;top:1144.40px;width:76.5px;height:29px;background:#9fd6f5"><span class="t">710</span></div>
<div class="c" style="left:298px;top:1144.40px;width:75px;height:29px;background:#9fd6f5"><span class="t">719.6</span></div>
<div class="c" style="left:374px;top:1144.40px;width:76px;height:29px;background:#9fd6f5"><span class="t">5</span></div>
<div class="c" style="left:451px;top:1144.40px;width:76px;height:29px;background:#9fd6f5"><span class="t">5050</span></div>
<div class="c" style="left:528px;top:1144.40px;width:89px;height:29px;background:#9fd6f5"><span class="t">125</span></div>
<div class="c" style="left:618px;top:1144.40px;width:89.5px;height:29px;background:#9fd6f5"><span class="t">-</span></div>
<div class="c" style="left:708.5px;top:1144.40px;width:75.5px;height:29px;background:#9fd6f5"><span class="t">162</span></div>
<div class="c" style="left:785px;top:1144.40px;width:59px;height:29px;background:#9fd6f5"><span class="t">656</span></div>
<div class="c" style="left:845px;top:1144.40px;width:76px;height:29px;background:#9fd6f5"><span class="t">17.5</span></div>
<div class="c" style="left:922px;top:1144.40px;width:75.5px;height:29px;background:#9fd6f5"><span class="t">127</span></div>
<div class="c" style="left:998.5px;top:1144.40px;width:75.5px;height:29px;background:#9fd6f5"><span class="t">17.5</span></div>
<div class="c" style="left:1075px;top:1144.40px;width:130px;height:29px;background:#9fd6f5"><span class="t">245</span></div>
<div class="c" style="left:-3px;top:1174.62px;width:146px;height:29px;background:#e8f5fd"><span class="t">SPC800-06</span></div>
<div class="c" style="left:144px;top:1174.62px;width:75.5px;height:29px;background:#e8f5fd"><span class="t">6</span></div>
<div class="c" style="left:220.5px;top:1174.62px;width:76.5px;height:29px;background:#e8f5fd"><span class="t">800</span></div>
<div class="c" style="left:298px;top:1174.62px;width:75px;height:29px;background:#e8f5fd"><span class="t">809.6</span></div>
<div class="c" style="left:374px;top:1174.62px;width:76px;height:29px;background:#e8f5fd"><span class="t">5</span></div>
<div class="c" style="left:451px;top:1174.62px;width:76px;height:29px;background:#e8f5fd"><span class="t">5050</span></div>
<div class="c" style="left:528px;top:1174.62px;width:89px;height:29px;background:#e8f5fd"><span class="t">125</span></div>
<div class="c" style="left:618px;top:1174.62px;width:89.5px;height:29px;background:#e8f5fd"><span class="t">-</span></div>
<div class="c" style="left:708.5px;top:1174.62px;width:75.5px;height:29px;background:#e8f5fd"><span class="t">162</span></div>
<div class="c" style="left:785px;top:1174.62px;width:59px;height:29px;background:#e8f5fd"><span class="t">737</span></div>
<div class="c" style="left:845px;top:1174.62px;width:76px;height:29px;background:#e8f5fd"><span class="t">17.5</span></div>
<div class="c" style="left:922px;top:1174.62px;width:75.5px;height:29px;background:#e8f5fd"><span class="t">127</span></div>
<div class="c" style="left:998.5px;top:1174.62px;width:75.5px;height:29px;background:#e8f5fd"><span class="t">17.5</span></div>
<div class="c" style="left:1075px;top:1174.62px;width:130px;height:29px;background:#e8f5fd"><span class="t">245</span></div>
<div class="c" style="left:-3px;top:1204.84px;width:146px;height:29px;background:#9fd6f5"><span class="t">SPC1000-06</span></div>
<div class="c" style="left:144px;top:1204.84px;width:75.5px;height:29px;background:#9fd6f5"><span class="t">6</span></div>
<div class="c" style="left:220.5px;top:1204.84px;width:76.5px;height:29px;background:#9fd6f5"><span class="t">1000</span></div>
<div class="c" style="left:298px;top:1204.84px;width:75px;height:29px;background:#9fd6f5"><span class="t">1009.6</span></div>
<div class="c" style="left:374px;top:1204.84px;width:76px;height:29px;background:#9fd6f5"><span class="t">5</span></div>
<div class="c" style="left:451px;top:1204.84px;width:76px;height:29px;background:#9fd6f5"><span class="t">5050</span></div>
<div class="c" style="left:528px;top:1204.84px;width:89px;height:29px;background:#9fd6f5"><span class="t">125</span></div>
<div class="c" style="left:618px;top:1204.84px;width:89.5px;height:29px;background:#9fd6f5"><span class="t">-</span></div>
<div class="c" style="left:708.5px;top:1204.84px;width:75.5px;height:29px;background:#9fd6f5"><span class="t">162</span></div>
<div class="c" style="left:785px;top:1204.84px;width:59px;height:29px;background:#9fd6f5"><span class="t">937</span></div>
<div class="c" style="left:845px;top:1204.84px;width:76px;height:29px;background:#9fd6f5"><span class="t">17.5</span></div>
<div class="c" style="left:922px;top:1204.84px;width:75.5px;height:29px;background:#9fd6f5"><span class="t">127</span></div>
<div class="c" style="left:998.5px;top:1204.84px;width:75.5px;height:29px;background:#9fd6f5"><span class="t">17.5</span></div>
<div class="c" style="left:1075px;top:1204.84px;width:130px;height:29px;background:#9fd6f5"><span class="t">245</span></div>
<div class="c" style="left:-3px;top:1235.06px;width:146px;height:29px;background:#e8f5fd"><span class="t">SPC1250-06</span></div>
<div class="c" style="left:144px;top:1235.06px;width:75.5px;height:29px;background:#e8f5fd"><span class="t">6</span></div>
<div class="c" style="left:220.5px;top:1235.06px;width:76.5px;height:29px;background:#e8f5fd"><span class="t">1250</span></div>
<div class="c" style="left:298px;top:1235.06px;width:75px;height:29px;background:#e8f5fd"><span class="t">1259.6</span></div>
<div class="c" style="left:374px;top:1235.06px;width:76px;height:29px;background:#e8f5fd"><span class="t">5</span></div>
<div class="c" style="left:451px;top:1235.06px;width:76px;height:29px;background:#e8f5fd"><span class="t">5050</span></div>
<div class="c" style="left:528px;top:1235.06px;width:89px;height:29px;background:#e8f5fd"><span class="t">125</span></div>
<div class="c" style="left:618px;top:1235.06px;width:89.5px;height:29px;background:#e8f5fd"><span class="t">-</span></div>
<div class="c" style="left:708.5px;top:1235.06px;width:75.5px;height:29px;background:#e8f5fd"><span class="t">162</span></div>
<div class="c" style="left:785px;top:1235.06px;width:59px;height:29px;background:#e8f5fd"><span class="t">1187</span></div>
<div class="c" style="left:845px;top:1235.06px;width:76px;height:29px;background:#e8f5fd"><span class="t">17.5</span></div>
<div class="c" style="left:922px;top:1235.06px;width:75.5px;height:29px;background:#e8f5fd"><span class="t">127</span></div>
<div class="c" style="left:998.5px;top:1235.06px;width:75.5px;height:29px;background:#e8f5fd"><span class="t">17.5</span></div>
<div class="c" style="left:1075px;top:1235.06px;width:130px;height:29px;background:#e8f5fd"><span class="t">245</span></div>
</body></html>
